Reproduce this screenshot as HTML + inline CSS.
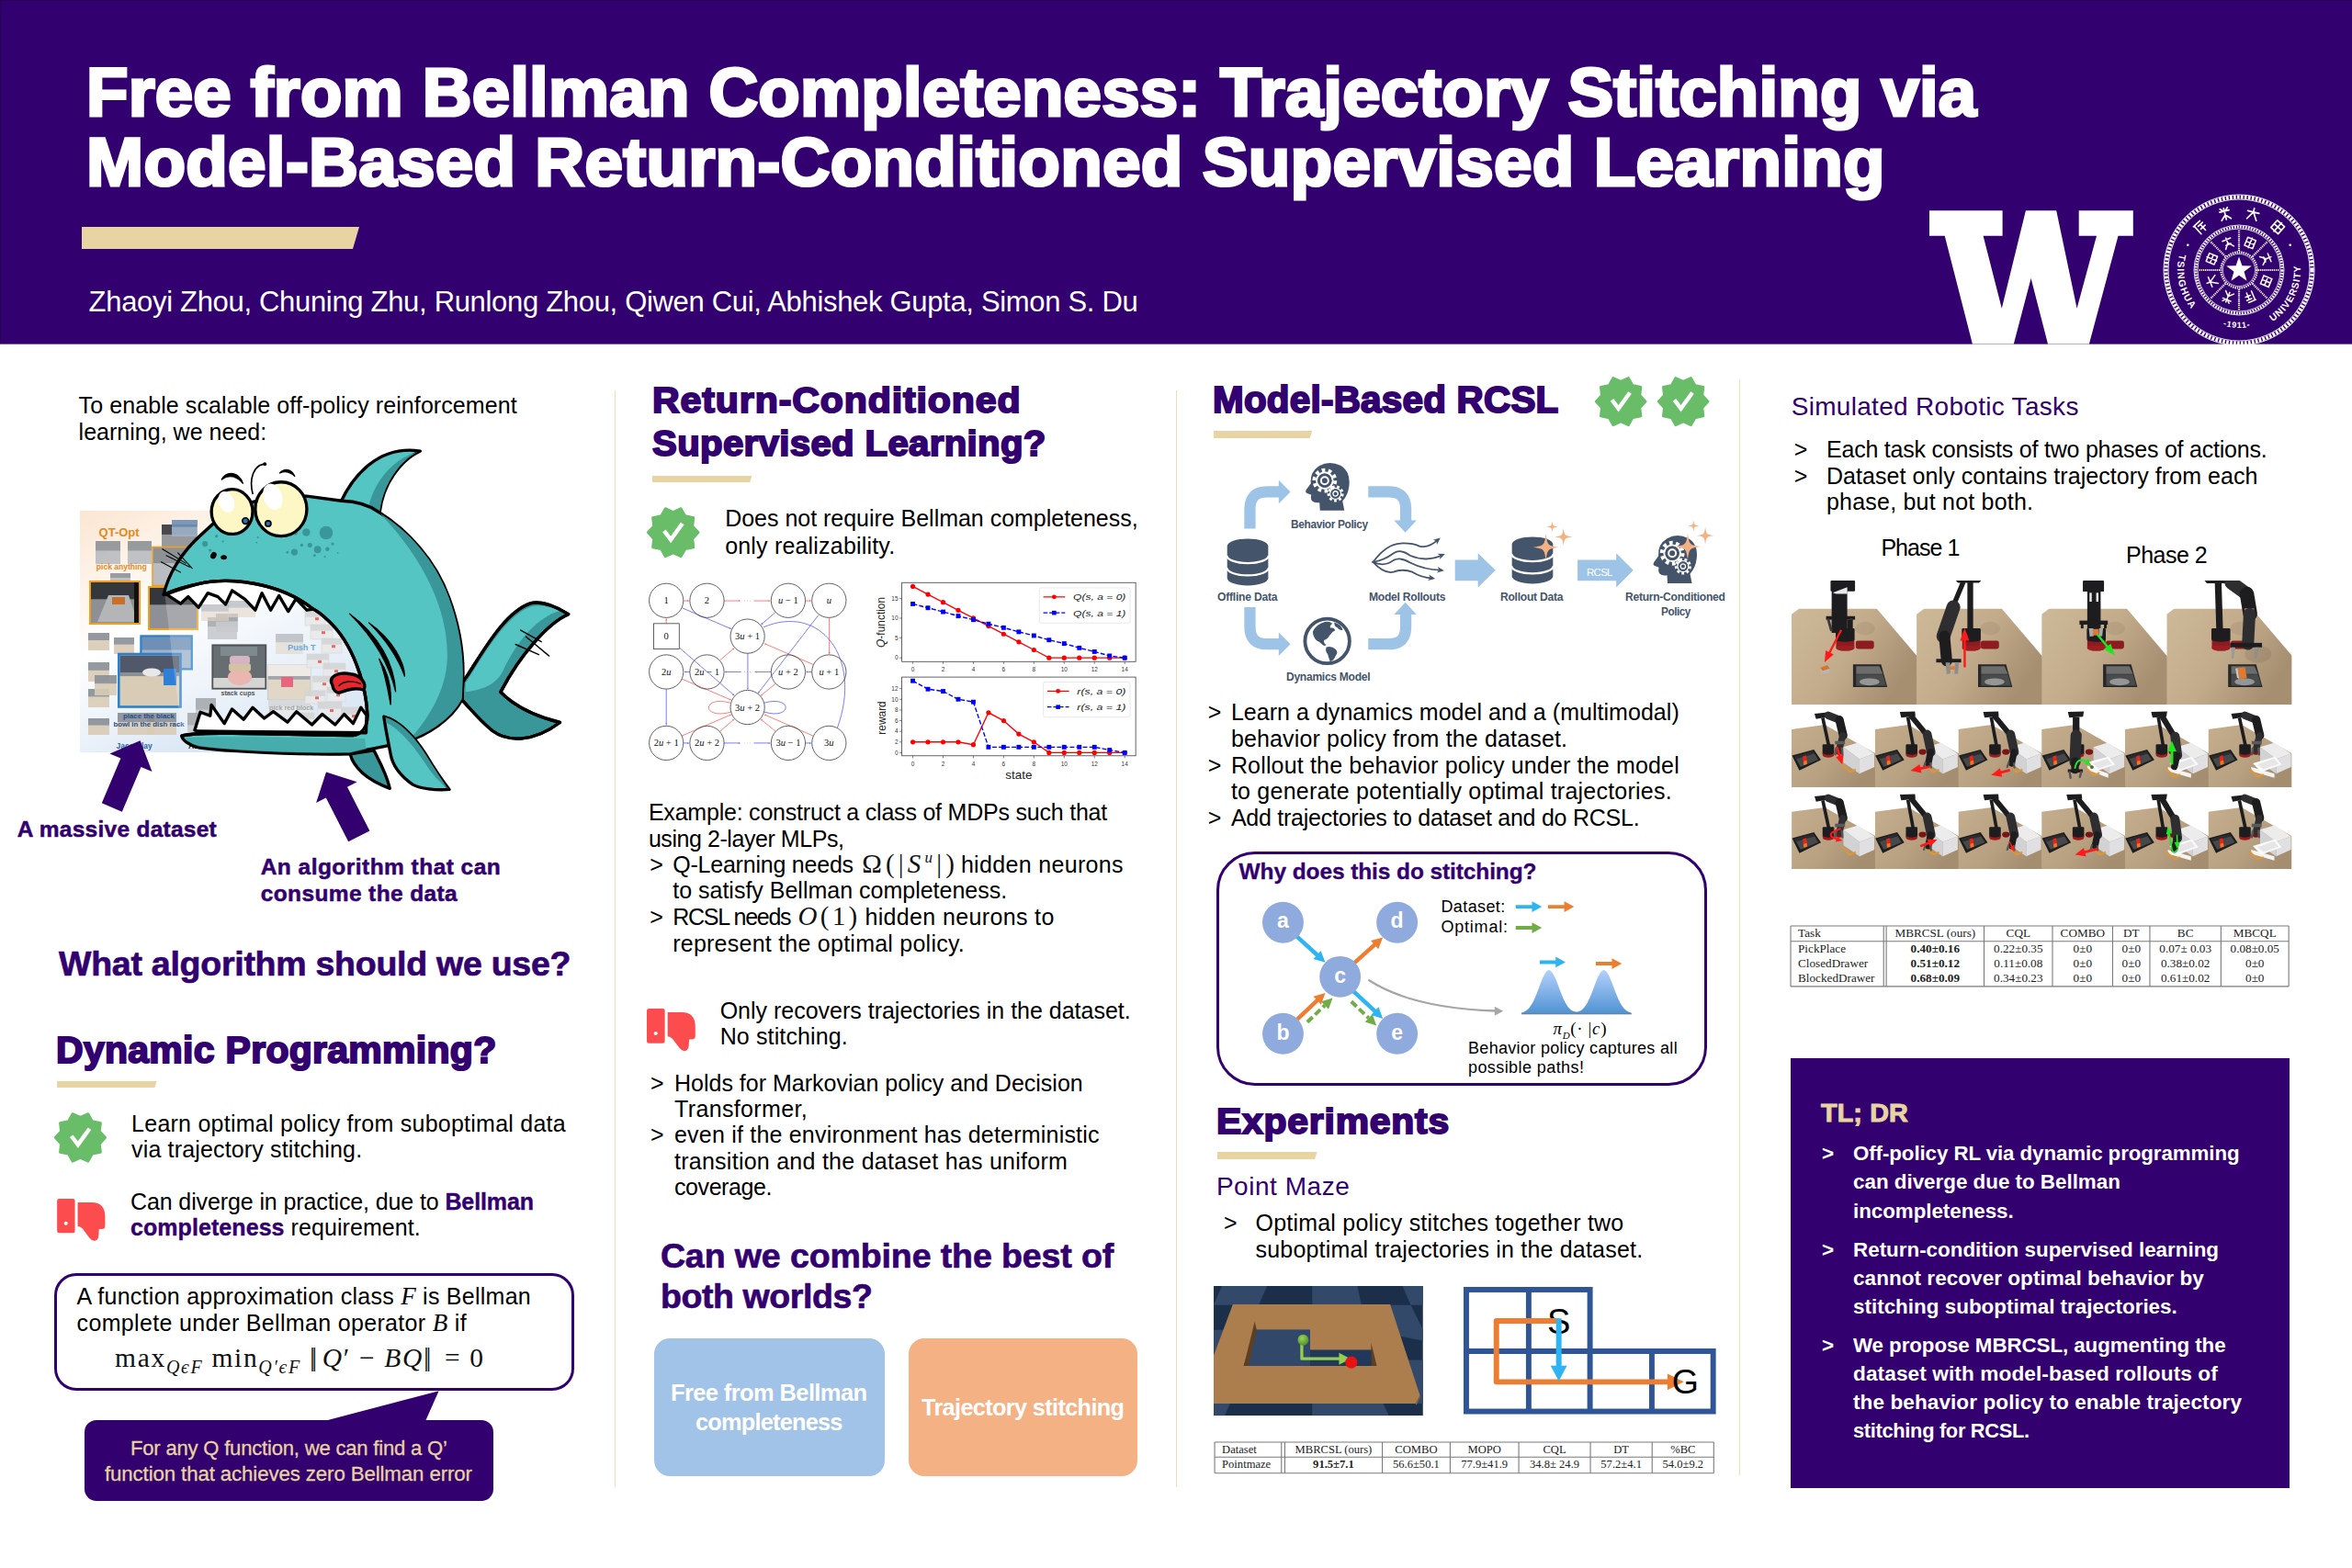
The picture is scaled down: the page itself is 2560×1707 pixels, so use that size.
<!DOCTYPE html>
<html><head><meta charset="utf-8"><title>Poster</title>
<style>
html,body{margin:0;padding:0;background:#fff;overflow:hidden}
body{width:2560px;height:1707px;position:relative;overflow:hidden;font-family:"Liberation Sans",sans-serif}
.t{position:absolute;white-space:pre;line-height:1}
svg{overflow:visible}
svg svg{overflow:hidden}
svg text{font-family:"Liberation Sans",sans-serif}
</style></head>
<body>

<div style="position:absolute;left:0.0px;top:0.0px;width:2560.0px;height:374.0px;background:#33006f;box-shadow:inset 1px 1px 0 #26004f"></div>
<div style="position:absolute;left:0.0px;top:374.0px;width:2560.0px;height:1.0px;background:#7a59a1"></div>
<svg style="position:absolute;left:89.0px;top:247.0px;" width="302.0" height="24.0" viewBox="0 0 302 24" ><polygon points="0,0 302,0 295,24 0,24" fill="#e8d3a2"/></svg>
<svg style="position:absolute;left:2080.0px;top:200.0px;" width="260.0" height="174.5" viewBox="2080 200 260 174.5" ><polygon points="2100.0,229.2 2179.6,229.2 2179.6,256.7 2158.6,256.7 2178.8,335.7 2204.9,229.2 2238.2,229.2 2260.6,335.7 2282.0,256.7 2262.7,256.7 2262.7,229.2 2321.8,229.2 2321.8,256.7 2305.5,256.7 2273.9,374.5 2229.0,374.5 2210.6,303.1 2191.8,374.5 2146.9,374.5 2116.7,256.7 2100.0,256.7" fill="#fff"/></svg>
<svg style="position:absolute;left:2352.0px;top:209.0px;" width="170.0" height="170.0" viewBox="-85 -85 170 170" ><g fill="none" stroke="#fff"><circle cx="0" cy="0" r="79.5" stroke-width="4.2" stroke-dasharray="2.6 1.4"/><circle cx="0" cy="0" r="82" stroke-width="0.9"/><circle cx="0" cy="0" r="77" stroke-width="0.9"/><circle cx="0" cy="0" r="47" stroke-width="3" stroke-dasharray="1.8 1.2"/><circle cx="0" cy="0" r="49" stroke-width="0.8"/><circle cx="0" cy="0" r="45" stroke-width="0.8"/><circle cx="0" cy="0" r="19.5" stroke-width="2.4" stroke-dasharray="1.4 1"/><circle cx="0" cy="0" r="17.6" stroke-width="0.7"/><line x1="0.0" y1="21.0" x2="0.0" y2="44.0" stroke-width="2.2" stroke-dasharray="1.2 0.9"/><line x1="-14.8" y1="14.8" x2="-31.1" y2="31.1" stroke-width="2.2" stroke-dasharray="1.2 0.9"/><line x1="-21.0" y1="0.0" x2="-44.0" y2="0.0" stroke-width="2.2" stroke-dasharray="1.2 0.9"/><line x1="-14.8" y1="-14.8" x2="-31.1" y2="-31.1" stroke-width="2.2" stroke-dasharray="1.2 0.9"/><line x1="-0.0" y1="-21.0" x2="-0.0" y2="-44.0" stroke-width="2.2" stroke-dasharray="1.2 0.9"/><line x1="14.8" y1="-14.8" x2="31.1" y2="-31.1" stroke-width="2.2" stroke-dasharray="1.2 0.9"/><line x1="21.0" y1="-0.0" x2="44.0" y2="-0.0" stroke-width="2.2" stroke-dasharray="1.2 0.9"/><line x1="14.8" y1="14.8" x2="31.1" y2="31.1" stroke-width="2.2" stroke-dasharray="1.2 0.9"/></g><polygon points="0.00,-14.50 3.41,-4.69 13.79,-4.48 5.52,1.79 8.52,11.73 0.00,5.80 -8.52,11.73 -5.52,1.79 -13.79,-4.48 -3.41,-4.69" fill="#fff"/><g transform="translate(12.2 -29.6) rotate(22.5) scale(0.95)" stroke="#fff" fill="none" stroke-width="1.6" stroke-linecap="round"><path d="M-5,-5H5M-5,0H5M-5,5H5M0,-6V6M-5,-5V5M5,-5V5"/></g><g transform="translate(29.6 -12.2) rotate(67.5) scale(0.95)" stroke="#fff" fill="none" stroke-width="1.6" stroke-linecap="round"><path d="M-5,-4H5M0,-6V0M-5,6L0,0L5,6M-3,2H3"/></g><g transform="translate(29.6 12.2) rotate(112.5) scale(0.95)" stroke="#fff" fill="none" stroke-width="1.6" stroke-linecap="round"><path d="M-5,-5H5V5H-5ZM-5,0H5M0,-5V5"/></g><g transform="translate(12.2 29.6) rotate(157.5) scale(0.95)" stroke="#fff" fill="none" stroke-width="1.6" stroke-linecap="round"><path d="M-5,-5H4M-4,-5V6M-1,-2H5M-1,2H5M2,-2V6"/></g><g transform="translate(-12.2 29.6) rotate(202.5) scale(0.95)" stroke="#fff" fill="none" stroke-width="1.6" stroke-linecap="round"><path d="M-5,-3H5M0,-6V6M-5,6L0,1L5,6M-4,-6L-2,-4M4,-6L2,-4"/></g><g transform="translate(-29.6 12.2) rotate(247.5) scale(0.95)" stroke="#fff" fill="none" stroke-width="1.6" stroke-linecap="round"><path d="M-6,-2H6M0,-6V-2M-5,6Q0,-2 0,-2Q0,-2 5,6"/></g><g transform="translate(-29.6 -12.2) rotate(292.5) scale(0.95)" stroke="#fff" fill="none" stroke-width="1.6" stroke-linecap="round"><path d="M-5,-5H5M-5,0H5M-5,5H5M0,-6V6M-5,-5V5M5,-5V5"/></g><g transform="translate(-12.2 -29.6) rotate(337.5) scale(0.95)" stroke="#fff" fill="none" stroke-width="1.6" stroke-linecap="round"><path d="M-5,-4H5M0,-6V0M-5,6L0,0L5,6M-3,2H3"/></g><g transform="translate(-42.2 -46.8) rotate(-42.0) scale(1.05)" stroke="#fff" fill="none" stroke-width="1.6" stroke-linecap="round"><path d="M-5,-5H4M-4,-5V6M-1,-2H5M-1,2H5M2,-2V6"/></g><g transform="translate(-15.2 -61.1) rotate(-14.0) scale(1.05)" stroke="#fff" fill="none" stroke-width="1.6" stroke-linecap="round"><path d="M-5,-3H5M0,-6V6M-5,6L0,1L5,6M-4,-6L-2,-4M4,-6L2,-4"/></g><g transform="translate(15.2 -61.1) rotate(14.0) scale(1.05)" stroke="#fff" fill="none" stroke-width="1.6" stroke-linecap="round"><path d="M-6,-2H6M0,-6V-2M-5,6Q0,-2 0,-2Q0,-2 5,6"/></g><g transform="translate(42.2 -46.8) rotate(42.0) scale(1.05)" stroke="#fff" fill="none" stroke-width="1.6" stroke-linecap="round"><path d="M-5,-5H5M-5,0H5M-5,5H5M0,-6V6M-5,-5V5M5,-5V5"/></g><defs><path id="arcL" d="M-64.72,-17.34 A67,67 0 0 0 -35.50,56.82"/><path id="arcR" d="M36.49,56.19 A67,67 0 0 0 62.96,-22.92"/><path id="arcB" d="M-17.37,60.56 A63,63 0 0 0 17.37,60.56"/></defs><text font-family="Liberation Sans, sans-serif" font-weight="700" fill="#fff" font-size="10.5" letter-spacing="1.2"><textPath href="#arcL">TSINGHUA</textPath></text><text font-family="Liberation Sans, sans-serif" font-weight="700" fill="#fff" font-size="10.5" letter-spacing="0.9"><textPath href="#arcR">UNIVERSITY</textPath></text><text font-family="Liberation Sans, sans-serif" font-weight="700" fill="#fff" font-size="9" letter-spacing="0.8"><textPath href="#arcB">-1911-</textPath></text><circle cx="-55.7" cy="-27.2" r="1.3" fill="#fff"/><circle cx="55.7" cy="-27.2" r="1.3" fill="#fff"/></svg>
<div style="position:absolute;left:668.6px;top:425.0px;width:1.6px;height:1194.0px;background:#ecdcb8"></div>
<div style="position:absolute;left:1279.8px;top:425.0px;width:1.6px;height:1194.0px;background:#ecdcb8"></div>
<div style="position:absolute;left:1892.6px;top:413.0px;width:1.6px;height:1193.0px;background:#ecdcb8"></div>
<svg style="position:absolute;left:62.0px;top:1176.5px;" width="108.6" height="7.1" viewBox="0 0 108.6 7.1" ><polygon points="0.0,0.0 108.6,0.0 106.5,7.1 0.0,7.1" fill="#e8d3a2"/></svg>
<svg style="position:absolute;left:56.1px;top:1207.1px;" width="62.9" height="62.9" viewBox="-31.46 -31.46 62.92 62.92" ><polygon points="27.31,0.00 21.08,6.85 22.10,16.05 13.03,17.93 8.44,25.98 0.00,22.17 -8.44,25.98 -13.03,17.93 -22.10,16.05 -21.08,6.85 -27.31,0.00 -21.08,-6.85 -22.10,-16.05 -13.03,-17.93 -8.44,-25.98 -0.00,-22.17 8.44,-25.98 13.03,-17.93 22.10,-16.05 21.08,-6.85" fill="#69bd68" stroke="#69bd68" stroke-width="2.57" stroke-linejoin="round"/><polyline points="-9.72,-1.72 -2.57,7.72 10.01,-9.72" fill="none" stroke="#fff" stroke-width="4.43" stroke-linecap="butt" stroke-linejoin="miter"/></svg>
<svg style="position:absolute;left:62.3px;top:1305.0px;" width="52.5" height="45.7" viewBox="0 0 207 181" ><rect x="0" y="0" width="77" height="148" rx="9" fill="#fd4c4e"/><circle cx="38" cy="106" r="8" fill="#fff"/><path d="M89,16 H150 Q207,16 207,78 V118 Q207,131 194,131 H181 L179,160 Q176,181 160,181 Q149,181 139,168 L110,129 Q101,119 89,119 Z" fill="#fd4c4e"/></svg>
<div style="position:absolute;left:58.5px;top:1386.3px;width:566.0px;height:127.4px;border:3px solid #33006f;border-radius:24px;box-sizing:border-box"></div>
<div style="position:absolute;left:92.2px;top:1546.3px;width:444.4px;height:88.2px;background:#33006f;border-radius:13px"></div>
<svg style="position:absolute;left:340.0px;top:1510.0px;" width="150.0" height="40.0" viewBox="340 1510 150 40" ><polygon points="353,1547 463.1,1547 477.6,1514.2" fill="#33006f"/></svg>
<svg style="position:absolute;left:710.0px;top:517.5px;" width="108.4" height="7.1" viewBox="0 0 108.4 7.1" ><polygon points="0.0,0.0 108.4,0.0 106.3,7.1 0.0,7.1" fill="#e8d3a2"/></svg>
<svg style="position:absolute;left:700.7px;top:547.9px;" width="63.4" height="63.4" viewBox="-31.68 -31.68 63.36 63.36" ><polygon points="27.50,0.00 21.23,6.90 22.25,16.17 13.12,18.06 8.50,26.16 0.00,22.32 -8.50,26.16 -13.12,18.06 -22.25,16.17 -21.23,6.90 -27.50,0.00 -21.23,-6.90 -22.25,-16.17 -13.12,-18.06 -8.50,-26.16 -0.00,-22.32 8.50,-26.16 13.12,-18.06 22.25,-16.17 21.23,-6.90" fill="#69bd68" stroke="#69bd68" stroke-width="2.59" stroke-linejoin="round"/><polyline points="-9.79,-1.73 -2.59,7.78 10.08,-9.79" fill="none" stroke="#fff" stroke-width="4.46" stroke-linecap="butt" stroke-linejoin="miter"/></svg>
<svg style="position:absolute;left:704.2px;top:1097.5px;" width="52.8" height="46.2" viewBox="0 0 207 181" ><rect x="0" y="0" width="77" height="148" rx="9" fill="#fd4c4e"/><circle cx="38" cy="106" r="8" fill="#fff"/><path d="M89,16 H150 Q207,16 207,78 V118 Q207,131 194,131 H181 L179,160 Q176,181 160,181 Q149,181 139,168 L110,129 Q101,119 89,119 Z" fill="#fd4c4e"/></svg>
<div style="position:absolute;left:712.2px;top:1456.7px;width:250.5px;height:150.0px;background:#a1c3e7;border-radius:17px"></div>
<div style="position:absolute;left:988.7px;top:1456.7px;width:249.1px;height:150.0px;background:#f4b183;border-radius:17px"></div>
<svg style="position:absolute;left:1321.1px;top:468.5px;" width="107.3" height="7.9" viewBox="0 0 107.3 7.9" ><polygon points="0.0,0.0 107.3,0.0 104.9,7.9 0.0,7.9" fill="#e8d3a2"/></svg>
<svg style="position:absolute;left:1732.9px;top:405.8px;" width="62.3" height="62.3" viewBox="-31.13 -31.13 62.26 62.26" ><polygon points="27.03,0.00 20.86,6.78 21.86,15.89 12.89,17.74 8.35,25.70 0.00,21.93 -8.35,25.70 -12.89,17.74 -21.86,15.89 -20.86,6.78 -27.03,0.00 -20.86,-6.78 -21.86,-15.89 -12.89,-17.74 -8.35,-25.70 -0.00,-21.93 8.35,-25.70 12.89,-17.74 21.86,-15.89 20.86,-6.78" fill="#69bd68" stroke="#69bd68" stroke-width="2.55" stroke-linejoin="round"/><polyline points="-9.62,-1.70 -2.55,7.64 9.90,-9.62" fill="none" stroke="#fff" stroke-width="4.39" stroke-linecap="butt" stroke-linejoin="miter"/></svg>
<svg style="position:absolute;left:1801.1px;top:405.8px;" width="62.3" height="62.3" viewBox="-31.13 -31.13 62.26 62.26" ><polygon points="27.03,0.00 20.86,6.78 21.86,15.89 12.89,17.74 8.35,25.70 0.00,21.93 -8.35,25.70 -12.89,17.74 -21.86,15.89 -20.86,6.78 -27.03,0.00 -20.86,-6.78 -21.86,-15.89 -12.89,-17.74 -8.35,-25.70 -0.00,-21.93 8.35,-25.70 12.89,-17.74 21.86,-15.89 20.86,-6.78" fill="#69bd68" stroke="#69bd68" stroke-width="2.55" stroke-linejoin="round"/><polyline points="-9.62,-1.70 -2.55,7.64 9.90,-9.62" fill="none" stroke="#fff" stroke-width="4.39" stroke-linecap="butt" stroke-linejoin="miter"/></svg>
<div style="position:absolute;left:1324.2px;top:927.0px;width:533.6px;height:255.0px;border:3px solid #33006f;border-radius:42px;box-sizing:border-box"></div>
<svg style="position:absolute;left:1325.0px;top:1253.6px;" width="108.5" height="8.0" viewBox="0 0 108.5 8.0" ><polygon points="0.0,0.0 108.5,0.0 106.1,8.0 0.0,8.0" fill="#e8d3a2"/></svg>
<div style="position:absolute;left:1949.0px;top:1152.0px;width:543.0px;height:467.5px;background:#33006f"></div>
<!-- g_fish -->
<svg style="position:absolute;left:80.0px;top:550.0px;" width="345.0" height="275.0" viewBox="80 550 345 275" ><defs><linearGradient id="cbg" x1="0" y1="0" x2="0.6" y2="1"><stop offset="0" stop-color="#fbe6d2"/><stop offset="0.45" stop-color="#ffffff"/><stop offset="1" stop-color="#d3e2f3"/></linearGradient><linearGradient id="cfade" x1="0" y1="0" x2="1" y2="0"><stop offset="0.55" stop-color="#fff" stop-opacity="0"/><stop offset="1" stop-color="#fff" stop-opacity="1"/></linearGradient></defs><rect x="87" y="556" width="313" height="263" fill="url(#cbg)"/><g opacity="0.90"><rect x="104.0" y="589.0" width="27.0" height="25.0" fill="#b9bcc0"/><rect x="104.0" y="589.0" width="27.0" height="10.5" fill="#8e9297"/></g><g opacity="0.90"><rect x="139.0" y="589.0" width="26.0" height="25.0" fill="#b9bcc0"/><rect x="139.0" y="589.0" width="26.0" height="10.5" fill="#8e9297"/></g><g opacity="0.90"><rect x="176.0" y="571.0" width="38.0" height="26.0" fill="#8d9094"/><rect x="176.0" y="571.0" width="38.0" height="10.9" fill="#34373c"/></g><g opacity="0.90"><rect x="187.0" y="566.0" width="28.0" height="18.0" fill="#9fb4cc"/><rect x="187.0" y="566.0" width="28.0" height="7.6" fill="#6f8fb4"/></g><g opacity="0.90"><rect x="120.0" y="624.0" width="22.0" height="12.0" fill="#b9bcc0"/><rect x="120.0" y="624.0" width="22.0" height="5.0" fill="#8e9297"/></g><g opacity="0.90"><rect x="226.0" y="672.0" width="32.0" height="24.0" fill="#b9bcc0"/><rect x="226.0" y="672.0" width="32.0" height="10.1" fill="#8e9297"/></g><g opacity="0.90"><rect x="235.0" y="668.0" width="24.0" height="20.0" fill="#b9bcc0"/><rect x="235.0" y="668.0" width="24.0" height="8.4" fill="#8e9297"/></g><g opacity="0.90"><rect x="96.0" y="689.0" width="23.0" height="19.0" fill="#d9ccb6"/><rect x="96.0" y="689.0" width="23.0" height="8.0" fill="#8a8f96"/></g><g opacity="0.90"><rect x="124.0" y="694.0" width="22.0" height="18.0" fill="#d9ccb6"/><rect x="124.0" y="694.0" width="22.0" height="7.6" fill="#8a8f96"/></g><g opacity="0.90"><rect x="96.0" y="721.0" width="23.0" height="21.0" fill="#d9ccb6"/><rect x="96.0" y="721.0" width="23.0" height="8.8" fill="#8a8f96"/></g><g opacity="0.90"><rect x="96.0" y="750.0" width="23.0" height="20.0" fill="#d9ccb6"/><rect x="96.0" y="750.0" width="23.0" height="8.4" fill="#8a8f96"/></g><g opacity="0.90"><rect x="96.0" y="782.0" width="23.0" height="18.0" fill="#d9ccb6"/><rect x="96.0" y="782.0" width="23.0" height="7.6" fill="#8a8f96"/></g><g opacity="0.90"><rect x="103.0" y="735.0" width="24.0" height="22.0" fill="#d9ccb6"/><rect x="103.0" y="735.0" width="24.0" height="9.2" fill="#8a8f96"/></g><g opacity="0.90"><rect x="128.0" y="776.0" width="40.0" height="24.0" fill="#d9ccb6"/><rect x="128.0" y="776.0" width="40.0" height="10.1" fill="#8a8f96"/></g><g opacity="0.90"><rect x="160.0" y="776.0" width="32.0" height="24.0" fill="#d9ccb6"/><rect x="160.0" y="776.0" width="32.0" height="10.1" fill="#8a8f96"/></g><g opacity="0.90"><rect x="213.0" y="760.0" width="22.0" height="30.0" fill="#b9bcc0"/><rect x="213.0" y="760.0" width="22.0" height="12.6" fill="#8e9297"/></g><g opacity="0.90"><rect x="204.0" y="776.0" width="28.0" height="32.0" fill="#b9bcc0"/><rect x="204.0" y="776.0" width="28.0" height="13.4" fill="#8e9297"/></g><g opacity="1.00"><rect x="166.0" y="595.5" width="50.0" height="42.0" fill="#b9bcc0"/><rect x="166.0" y="595.5" width="50.0" height="17.6" fill="#8e9297"/><rect x="166.0" y="595.5" width="50.0" height="42.0" fill="none" stroke="#f0a020" stroke-width="1.6"/></g><g opacity="1.00"><rect x="98.0" y="633.0" width="54.0" height="46.0" fill="#8d9094"/><rect x="98.0" y="633.0" width="54.0" height="19.3" fill="#34373c"/><rect x="98.0" y="633.0" width="54.0" height="46.0" fill="none" stroke="#f0a020" stroke-width="2.0"/></g><g opacity="1.00"><rect x="162.0" y="639.0" width="53.0" height="46.0" fill="#8d9094"/><rect x="162.0" y="639.0" width="53.0" height="19.3" fill="#34373c"/><rect x="162.0" y="639.0" width="53.0" height="46.0" fill="none" stroke="#f0a020" stroke-width="2.0"/></g><polygon points="106,677 118,648 140,648 150,677" fill="#b4b5b6"/><rect x="122" y="650" width="14" height="8" fill="#c8702a"/><rect x="146" y="634" width="5" height="44" fill="#111"/><g opacity="1.00"><rect x="153.4" y="692.4" width="55.4" height="36.0" fill="#9fb4cc"/><rect x="153.4" y="692.4" width="55.4" height="15.1" fill="#6f8fb4"/><rect x="153.4" y="692.4" width="55.4" height="36.0" fill="none" stroke="#2f7fc8" stroke-width="2.2"/></g><g opacity="1.00"><rect x="129.3" y="712.0" width="67.2" height="57.5" fill="#d9ccb6"/><rect x="129.3" y="712.0" width="67.2" height="24.1" fill="#8a8f96"/><rect x="129.3" y="712.0" width="67.2" height="57.5" fill="none" stroke="#2f7fc8" stroke-width="2.6"/></g><rect x="131" y="714" width="64" height="18" fill="#50586a"/><ellipse cx="165" cy="732" rx="10" ry="4.5" fill="#e8e8e8"/><rect x="178" y="728" width="14" height="18" fill="#2f7fd6"/><rect x="231.3" y="702.3" width="58" height="47.4" fill="#3d4649"/><rect x="231.3" y="738" width="58" height="11.7" fill="#c9cac8"/><rect x="240" y="704" width="40" height="10" fill="#5b6a70"/><rect x="231.3" y="702.3" width="58" height="47.4" fill="none" stroke="#222" stroke-width="1.8"/><ellipse cx="261" cy="737" rx="13" ry="9" fill="#e6a09a"/><rect x="249" y="722" width="24" height="9" rx="3" fill="#c9b08a"/><rect x="250" y="714" width="22" height="9" rx="3" fill="#caa0b0"/><g opacity="1.00"><rect x="291.4" y="724.0" width="46.6" height="37.6" fill="#d9ccb6"/><rect x="291.4" y="724.0" width="46.6" height="15.8" fill="#8a8f96"/><rect x="291.4" y="724.0" width="46.6" height="37.6" fill="none" stroke="#bbb" stroke-width="1.0"/></g><rect x="291.4" y="724" width="46.6" height="12" fill="#e9e6e0"/><rect x="306" y="737" width="13" height="11" fill="#e23a5a"/><g opacity="0.80"><rect x="292.0" y="761.0" width="46.0" height="20.0" fill="#e3e3e3"/><rect x="292.0" y="761.0" width="46.0" height="8.4" fill="#c9c9c9"/></g><g opacity="0.90"><rect x="332.0" y="665.0" width="22.0" height="16.0" fill="#e3e3e3"/><rect x="332.0" y="665.0" width="22.0" height="6.7" fill="#c9c9c9"/><rect x="332.0" y="665.0" width="22.0" height="16.0" fill="none" stroke="#c8c8c8" stroke-width="0.6"/></g><rect x="343.0" y="672.2" width="4" height="3" fill="#e04040"/><g opacity="0.90"><rect x="338.0" y="680.0" width="24.0" height="16.0" fill="#e3e3e3"/><rect x="338.0" y="680.0" width="24.0" height="6.7" fill="#c9c9c9"/><rect x="338.0" y="680.0" width="24.0" height="16.0" fill="none" stroke="#c8c8c8" stroke-width="0.6"/></g><rect x="350.0" y="687.2" width="4" height="3" fill="#e04040"/><g opacity="0.90"><rect x="350.0" y="695.0" width="22.0" height="16.0" fill="#e3e3e3"/><rect x="350.0" y="695.0" width="22.0" height="6.7" fill="#c9c9c9"/><rect x="350.0" y="695.0" width="22.0" height="16.0" fill="none" stroke="#c8c8c8" stroke-width="0.6"/></g><rect x="361.0" y="702.2" width="4" height="3" fill="#e04040"/><g opacity="0.90"><rect x="334.0" y="712.0" width="24.0" height="15.0" fill="#e3e3e3"/><rect x="334.0" y="712.0" width="24.0" height="6.3" fill="#c9c9c9"/><rect x="334.0" y="712.0" width="24.0" height="15.0" fill="none" stroke="#c8c8c8" stroke-width="0.6"/></g><rect x="346.0" y="718.8" width="4" height="3" fill="#e04040"/><g opacity="0.90"><rect x="352.0" y="722.0" width="24.0" height="16.0" fill="#e3e3e3"/><rect x="352.0" y="722.0" width="24.0" height="6.7" fill="#c9c9c9"/><rect x="352.0" y="722.0" width="24.0" height="16.0" fill="none" stroke="#c8c8c8" stroke-width="0.6"/></g><rect x="364.0" y="729.2" width="4" height="3" fill="#e04040"/><g opacity="0.90"><rect x="340.0" y="736.0" width="22.0" height="16.0" fill="#e3e3e3"/><rect x="340.0" y="736.0" width="22.0" height="6.7" fill="#c9c9c9"/><rect x="340.0" y="736.0" width="22.0" height="16.0" fill="none" stroke="#c8c8c8" stroke-width="0.6"/></g><rect x="351.0" y="743.2" width="4" height="3" fill="#e04040"/><g opacity="0.90"><rect x="356.0" y="748.0" width="20.0" height="16.0" fill="#e3e3e3"/><rect x="356.0" y="748.0" width="20.0" height="6.7" fill="#c9c9c9"/><rect x="356.0" y="748.0" width="20.0" height="16.0" fill="none" stroke="#c8c8c8" stroke-width="0.6"/></g><rect x="366.0" y="755.2" width="4" height="3" fill="#e04040"/><g opacity="0.90"><rect x="332.0" y="752.0" width="22.0" height="14.0" fill="#e3e3e3"/><rect x="332.0" y="752.0" width="22.0" height="5.9" fill="#c9c9c9"/><rect x="332.0" y="752.0" width="22.0" height="14.0" fill="none" stroke="#c8c8c8" stroke-width="0.6"/></g><rect x="343.0" y="758.3" width="4" height="3" fill="#e04040"/><g opacity="0.90"><rect x="346.0" y="764.0" width="26.0" height="18.0" fill="#e3e3e3"/><rect x="346.0" y="764.0" width="26.0" height="7.6" fill="#c9c9c9"/><rect x="346.0" y="764.0" width="26.0" height="18.0" fill="none" stroke="#c8c8c8" stroke-width="0.6"/></g><rect x="359.0" y="772.1" width="4" height="3" fill="#e04040"/><g opacity="0.90"><rect x="372.0" y="770.0" width="22.0" height="18.0" fill="#e3e3e3"/><rect x="372.0" y="770.0" width="22.0" height="7.6" fill="#c9c9c9"/><rect x="372.0" y="770.0" width="22.0" height="18.0" fill="none" stroke="#c8c8c8" stroke-width="0.6"/></g><rect x="383.0" y="778.1" width="4" height="3" fill="#e04040"/><g opacity="0.90"><rect x="318.0" y="776.0" width="24.0" height="16.0" fill="#e3e3e3"/><rect x="318.0" y="776.0" width="24.0" height="6.7" fill="#c9c9c9"/><rect x="318.0" y="776.0" width="24.0" height="16.0" fill="none" stroke="#c8c8c8" stroke-width="0.6"/></g><rect x="330.0" y="783.2" width="4" height="3" fill="#e04040"/><g opacity="0.60"><rect x="219.0" y="658.0" width="30.0" height="18.0" fill="#d9ccb6"/><rect x="219.0" y="658.0" width="30.0" height="7.6" fill="#8a8f96"/></g><g opacity="0.60"><rect x="248.0" y="654.0" width="30.0" height="18.0" fill="#d9ccb6"/><rect x="248.0" y="654.0" width="30.0" height="7.6" fill="#8a8f96"/></g><g opacity="0.60"><rect x="300.0" y="690.0" width="30.0" height="22.0" fill="#d9ccb6"/><rect x="300.0" y="690.0" width="30.0" height="9.2" fill="#8a8f96"/></g><text x="107.6" y="583.6" font-size="13.6" fill="#e08a1e" font-family="Liberation Sans, sans-serif" font-weight="700" textLength="44" lengthAdjust="spacingAndGlyphs">QT-Opt</text><text x="104.8" y="619.5" font-size="8.6" fill="#e08a1e" font-family="Liberation Sans, sans-serif" font-weight="700" textLength="55" lengthAdjust="spacingAndGlyphs">pick anything</text><text x="162" y="782" font-size="7.8" fill="#1f4e8c" text-anchor="middle" font-family="Liberation Sans, sans-serif" font-weight="700">place the black</text><text x="162" y="791.2" font-size="7.8" fill="#1f4e8c" text-anchor="middle" font-family="Liberation Sans, sans-serif" font-weight="700">bowl in the dish rack</text><text x="259" y="756.6" font-size="7.2" fill="#222" text-anchor="middle" font-family="Liberation Sans, sans-serif" font-weight="700">stack cups</text><text x="313" y="707.6" font-size="9.2" fill="#3b8fd8" font-family="Liberation Sans, sans-serif" font-weight="700">Push T</text><text x="293" y="772.6" font-size="7.2" fill="#888" font-family="Liberation Sans, sans-serif" font-weight="700">pick red block</text><text x="126.5" y="815.4" font-size="8.5" fill="#2a62a8" font-family="Liberation Sans, sans-serif" font-weight="700">Jaco Play</text><text x="205" y="815.4" font-size="8.5" fill="#222" font-family="Liberation Sans, sans-serif" font-weight="700">ALOHA</text></svg><svg style="position:absolute;left:160.0px;top:470.0px;" width="480.0" height="440.0" viewBox="0 0 1711 1568" ><path d="M70,640 C200,580 330,560 520,595 C600,620 650,690 700,730 C800,820 850,980 855,1100 C855,1150 840,1175 800,1178 L200,1165 L135,1180 Z" fill="#fff" opacity="0.22"/><path d="M788,1250 C800,1300 850,1350 942,1384 C930,1330 905,1285 880,1236 Z" fill="#3a9799" stroke="#000" stroke-width="12" stroke-linejoin="round" stroke-linecap="round"/><path d="M1225,972 C1290,880 1380,700 1490,665 C1540,655 1590,680 1635,708 C1560,740 1450,860 1372,1010 C1440,1080 1530,1110 1602,1128 C1500,1205 1400,1205 1340,1160 C1290,1120 1250,1070 1222,1040 Z" fill="#3a9799" stroke="#000" stroke-width="12" stroke-linejoin="round" stroke-linecap="round"/><path d="M1236,975 C1300,880 1385,715 1492,678 C1530,670 1570,680 1600,695 C1520,720 1440,800 1380,930 C1350,985 1300,1000 1236,1010 Z" fill="#55c5c3"/><path d="M1225,972 C1290,880 1380,700 1490,665 C1540,655 1590,680 1635,708 C1560,740 1450,860 1372,1010 C1440,1080 1530,1110 1602,1128 C1500,1205 1400,1205 1340,1160 C1290,1120 1250,1070 1222,1040 Z" fill="none" stroke="#000" stroke-width="12" stroke-linejoin="round" stroke-linecap="round"/><path d="M752,272 C800,170 900,50 1060,75 C985,110 915,200 902,315 Z" fill="#55c5c3" stroke="#000" stroke-width="12" stroke-linejoin="round" stroke-linecap="round"/><path d="M860,290 C880,200 950,105 1050,78 C985,110 915,200 902,315 Z" fill="#3a9799"/><path d="M65,632 C80,560 130,470 215,395 L262,352 C300,300 450,240 620,250 L755,268 C820,270 870,290 900,312 C1010,380 1120,500 1170,640 C1215,760 1230,880 1225,972 L1222,1040 C1180,1120 1080,1180 1010,1200 C960,1215 900,1225 850,1235 L790,1250 C600,1255 300,1240 200,1225 C160,1215 135,1195 135,1180 C200,1160 500,1175 800,1178 C840,1170 855,1140 855,1100 C850,980 800,820 700,730 C680,710 660,695 640,685 C520,590 330,560 200,590 C150,600 100,615 65,632 Z" fill="#55c5c3" stroke="#000" stroke-width="12" stroke-linejoin="round" stroke-linecap="round"/><path d="M905,318 C1010,380 1120,500 1170,640 C1215,760 1230,880 1225,972 L1222,1036 C1180,1115 1100,1165 1020,1195 C1100,1100 1160,1000 1165,880 C1170,700 1080,500 905,318 Z" fill="#3a9799"/><path d="M150,1188 C300,1178 600,1190 845,1190 L850,1232 L790,1246 C600,1251 300,1236 202,1221 C175,1214 155,1200 150,1188 Z" fill="#3a9799" opacity="0.55"/><path d="M919,1105 C980,1120 1041,1188 1080,1250 C1110,1300 1150,1360 1173,1388 C1120,1392 1060,1385 1031,1369 C990,1340 953,1300 945,1250 C935,1200 925,1150 919,1105 Z" fill="#55c5c3" stroke="#000" stroke-width="12" stroke-linejoin="round" stroke-linecap="round"/><path d="M930,1130 C990,1160 1050,1240 1095,1310 C1120,1345 1150,1372 1168,1386 C1150,1360 1110,1300 1080,1250 C1041,1188 985,1125 925,1108 Z" fill="#3a9799"/><path d="M785,705 C900,790 960,900 965,1010 C940,900 880,800 785,705 Z" fill="#000" stroke="#000" stroke-width="4"/><path d="M860,740 C960,810 1000,900 1000,950 C975,880 930,810 860,740 Z" fill="#000" stroke="#000" stroke-width="4"/><path d="M900,880 C940,940 950,1000 945,1060 C935,1000 925,940 900,880 Z" fill="#000" stroke="#000" stroke-width="4"/><path d="M1450,770 L1530,815" stroke="#000" stroke-width="5" fill="none" stroke-linecap="round"/><path d="M1470,795 L1560,870" stroke="#000" stroke-width="5" fill="none" stroke-linecap="round"/><path d="M1430,825 L1520,865" stroke="#000" stroke-width="5" fill="none" stroke-linecap="round"/><circle cx="695" cy="392" r="26" fill="#3a9799"/><circle cx="618" cy="390" r="15" fill="#3a9799"/><circle cx="575" cy="392" r="9" fill="#3a9799"/><circle cx="572" cy="467" r="13" fill="#3a9799"/><circle cx="662" cy="457" r="14" fill="#3a9799"/><circle cx="632" cy="440" r="9" fill="#3a9799"/><circle cx="700" cy="455" r="8" fill="#3a9799"/><circle cx="720" cy="435" r="6" fill="#3a9799"/><circle cx="600" cy="440" r="6" fill="#3a9799"/><circle cx="545" cy="468" r="5" fill="#3a9799"/><circle cx="650" cy="480" r="5" fill="#3a9799"/><circle cx="690" cy="485" r="4" fill="#3a9799"/><circle cx="740" cy="470" r="3" fill="#3a9799"/><circle cx="225" cy="435" r="11" fill="#3a9799"/><circle cx="245" cy="460" r="6" fill="#3a9799"/><circle cx="270" cy="405" r="6" fill="#3a9799"/><circle cx="295" cy="425" r="4" fill="#3a9799"/><circle cx="430" cy="410" r="4" fill="#3a9799"/><circle cx="425" cy="430" r="3" fill="#3a9799"/><ellipse cx="258" cy="480" rx="11" ry="14" transform="rotate(30 258 480)" fill="#000"/><ellipse cx="298" cy="487" rx="12" ry="9" fill="#000"/><path d="M60,455 L150,510" stroke="#000" stroke-width="4" fill="none" stroke-linecap="round"/><path d="M75,480 L165,525" stroke="#000" stroke-width="4" fill="none" stroke-linecap="round"/><path d="M55,505 L130,545" stroke="#000" stroke-width="4" fill="none" stroke-linecap="round"/><path d="M120,470 L175,530" stroke="#000" stroke-width="4" fill="none" stroke-linecap="round"/><path d="M75,630 C150,603 200,590 200,590 C330,560 520,590 645,688 L620,692 L578,648 L548,697 L512,636 L480,692 L446,626 L420,692 L380,650 L330,616 L305,670 L275,640 L236,626 L200,682 L160,640 L130,667 Z" fill="#fff" stroke="#000" stroke-width="12" stroke-linejoin="round" stroke-linecap="round"/><path d="M185,1158 L207,1088 L245,1102 L250,1060 L300,1132 L330,1076 L375,1116 L410,1070 L455,1112 L490,1086 L545,1127 L580,1086 L640,1137 L680,1096 L730,1137 L765,1096 L800,1132 L830,1070 L852,1100 L850,1168 L200,1162 Z" fill="#fff" stroke="#000" stroke-width="12" stroke-linejoin="round" stroke-linecap="round"/><path d="M65,632 C100,615 150,600 200,590 C330,560 520,590 640,685 C660,695 680,710 700,730 C800,820 850,980 855,1100 C855,1140 840,1170 800,1178 C500,1175 200,1160 135,1180" fill="none" stroke="#000" stroke-width="12" stroke-linejoin="round" stroke-linecap="round"/><path d="M720,985 C700,950 740,930 790,940 C830,945 852,975 842,1002 C800,990 770,1005 745,1013 C730,1010 722,1000 720,985 Z" fill="#e8262d" stroke="#000" stroke-width="12" stroke-linejoin="round" stroke-linecap="round"/><path d="M745,985 C765,965 800,965 828,978" fill="none" stroke="#000" stroke-width="5" stroke-linecap="round"/><ellipse cx="330" cy="310" rx="80" ry="87" fill="#fcf7c4" stroke="#000" stroke-width="12" stroke-linejoin="round" stroke-linecap="round"/><ellipse cx="520" cy="300" rx="100" ry="105" fill="#fcf7c4" stroke="#000" stroke-width="12" stroke-linejoin="round" stroke-linecap="round"/><ellipse cx="308" cy="272" rx="30" ry="42" transform="rotate(-20 308 272)" fill="#fff"/><ellipse cx="488" cy="252" rx="36" ry="52" transform="rotate(-20 488 252)" fill="#fff"/><circle cx="382" cy="346" r="12" fill="#2a6fae" stroke="#000" stroke-width="6"/><circle cx="470" cy="356" r="11" fill="#2a6fae" stroke="#000" stroke-width="6"/><path d="M290,185 C310,150 355,155 372,200 C350,170 315,165 290,185 Z" fill="#000" stroke="#000" stroke-width="5" stroke-linejoin="round"/><path d="M515,160 C535,140 560,145 573,172 C555,155 535,150 515,160 Z" fill="#000" stroke="#000" stroke-width="5" stroke-linejoin="round"/><path d="M410,240 C395,180 415,130 455,125" fill="none" stroke="#000" stroke-width="6" stroke-linecap="round"/><circle cx="457" cy="125" r="7" fill="#000"/></svg><svg style="position:absolute;left:100.0px;top:800.0px;" width="320.0" height="130.0" viewBox="100 800 320 130" ><polygon points="132.8,883.7 153.5,834.9 165.5,840.0 152.6,806.3 119.4,820.5 131.4,825.6 110.8,874.3" fill="#33006f"/><polygon points="402.4,904.4 378.0,856.7 388.6,851.3 355.0,840.4 344.1,874.0 354.8,868.6 379.2,916.2" fill="#33006f"/></svg>
<!-- g_mdp -->
<svg style="position:absolute;left:690.0px;top:620.0px;" width="260.0" height="230.0" viewBox="0 0 1773 1568" ><line x1="240.0" y1="400.0" x2="240.0" y2="376.0" stroke="#ff5c5c" stroke-width="5.5"/><polygon points="247.0,376.0 240.0,360.0 233.0,376.0" fill="#ff5c5c"/><line x1="367.0" y1="232.0" x2="396.0" y2="232.0" stroke="#ff5c5c" stroke-width="5.5"/><polygon points="396.0,239.0 412.0,232.0 396.0,225.0" fill="#ff5c5c"/><line x1="668.0" y1="232.0" x2="776.0" y2="232.0" stroke="#ff5c5c" stroke-width="5.5"/><polygon points="776.0,239.0 792.0,232.0 776.0,225.0" fill="#ff5c5c"/><line x1="890.0" y1="232.0" x2="999.0" y2="232.0" stroke="#ff5c5c" stroke-width="5.5"/><polygon points="999.0,239.0 1015.0,232.0 999.0,225.0" fill="#ff5c5c"/><line x1="1272.0" y1="232.0" x2="1302.0" y2="232.0" stroke="#ff5c5c" stroke-width="5.5"/><polygon points="1302.0,239.0 1318.0,232.0 1302.0,225.0" fill="#ff5c5c"/><line x1="1450.0" y1="358.0" x2="1450.0" y2="614.0" stroke="#ff5c5c" stroke-width="5.5"/><polygon points="1443.0,614.0 1450.0,630.0 1457.0,614.0" fill="#ff5c5c"/><line x1="1330.0" y1="705.0" x2="979.7" y2="554.3" stroke="#ff5c5c" stroke-width="5.5"/><polygon points="982.5,547.9 965.0,548.0 976.9,560.8" fill="#ff5c5c"/><line x1="640.0" y1="672.0" x2="732.8" y2="593.3" stroke="#ff5c5c" stroke-width="5.5"/><polygon points="737.3,598.7 745.0,583.0 728.3,588.0" fill="#ff5c5c"/><line x1="355.0" y1="812.0" x2="710.3" y2="963.7" stroke="#ff5c5c" stroke-width="5.5"/><polygon points="707.5,970.2 725.0,970.0 713.0,957.3" fill="#ff5c5c"/><line x1="1050.0" y1="848.0" x2="952.4" y2="927.9" stroke="#ff5c5c" stroke-width="5.5"/><polygon points="948.0,922.5 940.0,938.0 956.8,933.3" fill="#ff5c5c"/><line x1="355.0" y1="1235.0" x2="710.3" y2="1081.4" stroke="#ff5c5c" stroke-width="5.5"/><polygon points="713.1,1087.8 725.0,1075.0 707.5,1074.9" fill="#ff5c5c"/><line x1="640.0" y1="1200.0" x2="732.9" y2="1120.4" stroke="#ff5c5c" stroke-width="5.5"/><polygon points="737.4,1125.7 745.0,1110.0 728.3,1115.1" fill="#ff5c5c"/><line x1="1050.0" y1="1200.0" x2="952.4" y2="1120.1" stroke="#ff5c5c" stroke-width="5.5"/><polygon points="956.8,1114.7 940.0,1110.0 948.0,1125.5" fill="#ff5c5c"/><line x1="1330.0" y1="1235.0" x2="979.7" y2="1081.4" stroke="#ff5c5c" stroke-width="5.5"/><polygon points="982.5,1075.0 965.0,1075.0 976.8,1087.8" fill="#ff5c5c"/><path d="M722,1057 C500,1120 500,930 716,990" fill="none" stroke="#ff5c5c" stroke-width="5.5"/><path d="M966,1057 C1180,1120 1180,930 966,990" fill="none" stroke="#5c5cff" stroke-width="5.5"/><line x1="358.0" y1="285.0" x2="710.3" y2="435.7" stroke="#5c5cff" stroke-width="5.5"/><polygon points="707.5,442.1 725.0,442.0 713.0,429.3" fill="#5c5cff"/><line x1="1050.0" y1="318.0" x2="954.2" y2="399.6" stroke="#5c5cff" stroke-width="5.5"/><polygon points="949.6,394.3 942.0,410.0 958.7,405.0" fill="#5c5cff"/><line x1="1370.0" y1="338.0" x2="929.8" y2="907.3" stroke="#5c5cff" stroke-width="5.5"/><polygon points="924.2,903.1 920.0,920.0 935.3,911.6" fill="#5c5cff"/><path d="M1510,1175 C1700,650 1380,250 962,428" fill="none" stroke="#5c5cff" stroke-width="5.5"/><line x1="337.0" y1="580.0" x2="732.9" y2="924.5" stroke="#5c5cff" stroke-width="5.5"/><polygon points="728.3,929.8 745.0,935.0 737.5,919.2" fill="#5c5cff"/><line x1="845.0" y1="622.0" x2="845.0" y2="877.0" stroke="#5c5cff" stroke-width="5.5"/><polygon points="838.0,877.0 845.0,893.0 852.0,877.0" fill="#5c5cff"/><line x1="1322.0" y1="760.0" x2="1291.0" y2="760.0" stroke="#5c5cff" stroke-width="5.5"/><polygon points="1291.0,753.0 1275.0,760.0 1291.0,767.0" fill="#5c5cff"/><line x1="1018.0" y1="760.0" x2="911.0" y2="760.0" stroke="#5c5cff" stroke-width="5.5"/><polygon points="911.0,753.0 895.0,760.0 911.0,767.0" fill="#5c5cff"/><line x1="795.0" y1="760.0" x2="688.0" y2="760.0" stroke="#5c5cff" stroke-width="5.5"/><polygon points="688.0,753.0 672.0,760.0 688.0,767.0" fill="#5c5cff"/><line x1="415.0" y1="760.0" x2="388.0" y2="760.0" stroke="#5c5cff" stroke-width="5.5"/><polygon points="388.0,753.0 372.0,760.0 388.0,767.0" fill="#5c5cff"/><line x1="240.0" y1="888.0" x2="240.0" y2="1142.0" stroke="#5c5cff" stroke-width="5.5"/><polygon points="233.0,1142.0 240.0,1158.0 247.0,1142.0" fill="#5c5cff"/><line x1="367.0" y1="1288.0" x2="396.0" y2="1288.0" stroke="#5c5cff" stroke-width="5.5"/><polygon points="396.0,1295.0 412.0,1288.0 396.0,1281.0" fill="#5c5cff"/><line x1="668.0" y1="1288.0" x2="776.0" y2="1288.0" stroke="#5c5cff" stroke-width="5.5"/><polygon points="776.0,1295.0 792.0,1288.0 776.0,1281.0" fill="#5c5cff"/><line x1="890.0" y1="1288.0" x2="999.0" y2="1288.0" stroke="#5c5cff" stroke-width="5.5"/><polygon points="999.0,1295.0 1015.0,1288.0 999.0,1281.0" fill="#5c5cff"/><line x1="1272.0" y1="1288.0" x2="1302.0" y2="1288.0" stroke="#5c5cff" stroke-width="5.5"/><polygon points="1302.0,1295.0 1318.0,1288.0 1302.0,1281.0" fill="#5c5cff"/><circle cx="822" cy="232" r="3" fill="#999"/><circle cx="842" cy="232" r="3" fill="#999"/><circle cx="862" cy="232" r="3" fill="#999"/><circle cx="822" cy="760" r="3" fill="#999"/><circle cx="842" cy="760" r="3" fill="#999"/><circle cx="862" cy="760" r="3" fill="#999"/><circle cx="822" cy="1288" r="3" fill="#999"/><circle cx="842" cy="1288" r="3" fill="#999"/><circle cx="862" cy="1288" r="3" fill="#999"/><circle cx="240" cy="230" r="127" fill="none" stroke="#3c3c3c" stroke-width="5.5"/><text x="240" y="254" text-anchor="middle" font-family="Liberation Serif, serif" font-size="72" fill="#111" style="font-family:'Liberation Serif',serif;white-space:pre">1</text><circle cx="542" cy="230" r="127" fill="none" stroke="#3c3c3c" stroke-width="5.5"/><text x="542" y="254" text-anchor="middle" font-family="Liberation Serif, serif" font-size="72" fill="#111" style="font-family:'Liberation Serif',serif;white-space:pre">2</text><circle cx="1145" cy="230" r="127" fill="none" stroke="#3c3c3c" stroke-width="5.5"/><text x="1145" y="254" text-anchor="middle" font-family="Liberation Serif, serif" font-size="72" fill="#111" style="font-family:'Liberation Serif',serif;white-space:pre"><tspan font-style="italic">u</tspan> − 1</text><circle cx="1448" cy="230" r="127" fill="none" stroke="#3c3c3c" stroke-width="5.5"/><text x="1448" y="254" text-anchor="middle" font-family="Liberation Serif, serif" font-size="72" fill="#111" style="font-family:'Liberation Serif',serif;white-space:pre"><tspan font-style="italic">u</tspan></text><circle cx="843" cy="495" r="127" fill="none" stroke="#3c3c3c" stroke-width="5.5"/><text x="843" y="519" text-anchor="middle" font-family="Liberation Serif, serif" font-size="72" fill="#111" style="font-family:'Liberation Serif',serif;white-space:pre">3<tspan font-style="italic">u</tspan> + 1</text><circle cx="240" cy="760" r="127" fill="none" stroke="#3c3c3c" stroke-width="5.5"/><text x="240" y="784" text-anchor="middle" font-family="Liberation Serif, serif" font-size="72" fill="#111" style="font-family:'Liberation Serif',serif;white-space:pre">2<tspan font-style="italic">u</tspan></text><circle cx="542" cy="760" r="127" fill="none" stroke="#3c3c3c" stroke-width="5.5"/><text x="542" y="784" text-anchor="middle" font-family="Liberation Serif, serif" font-size="72" fill="#111" style="font-family:'Liberation Serif',serif;white-space:pre">2<tspan font-style="italic">u</tspan> − 1</text><circle cx="1145" cy="760" r="127" fill="none" stroke="#3c3c3c" stroke-width="5.5"/><text x="1145" y="784" text-anchor="middle" font-family="Liberation Serif, serif" font-size="72" fill="#111" style="font-family:'Liberation Serif',serif;white-space:pre"><tspan font-style="italic">u</tspan> + 2</text><circle cx="1448" cy="760" r="127" fill="none" stroke="#3c3c3c" stroke-width="5.5"/><text x="1448" y="784" text-anchor="middle" font-family="Liberation Serif, serif" font-size="72" fill="#111" style="font-family:'Liberation Serif',serif;white-space:pre"><tspan font-style="italic">u</tspan> + 1</text><circle cx="843" cy="1023" r="127" fill="none" stroke="#3c3c3c" stroke-width="5.5"/><text x="843" y="1047" text-anchor="middle" font-family="Liberation Serif, serif" font-size="72" fill="#111" style="font-family:'Liberation Serif',serif;white-space:pre">3<tspan font-style="italic">u</tspan> + 2</text><circle cx="240" cy="1288" r="127" fill="none" stroke="#3c3c3c" stroke-width="5.5"/><text x="240" y="1312" text-anchor="middle" font-family="Liberation Serif, serif" font-size="72" fill="#111" style="font-family:'Liberation Serif',serif;white-space:pre">2<tspan font-style="italic">u</tspan> + 1</text><circle cx="542" cy="1288" r="127" fill="none" stroke="#3c3c3c" stroke-width="5.5"/><text x="542" y="1312" text-anchor="middle" font-family="Liberation Serif, serif" font-size="72" fill="#111" style="font-family:'Liberation Serif',serif;white-space:pre">2<tspan font-style="italic">u</tspan> + 2</text><circle cx="1145" cy="1288" r="127" fill="none" stroke="#3c3c3c" stroke-width="5.5"/><text x="1145" y="1312" text-anchor="middle" font-family="Liberation Serif, serif" font-size="72" fill="#111" style="font-family:'Liberation Serif',serif;white-space:pre">3<tspan font-style="italic">u</tspan> − 1</text><circle cx="1448" cy="1288" r="127" fill="none" stroke="#3c3c3c" stroke-width="5.5"/><text x="1448" y="1312" text-anchor="middle" font-family="Liberation Serif, serif" font-size="72" fill="#111" style="font-family:'Liberation Serif',serif;white-space:pre">3<tspan font-style="italic">u</tspan></text><rect x="146" y="401" width="190" height="188" fill="none" stroke="#3c3c3c" stroke-width="5.5"/><text x="240" y="519" text-anchor="middle" font-family="Liberation Serif, serif" font-size="72" fill="#111" style="font-family:'Liberation Serif',serif;white-space:pre">0</text></svg>
<!-- g_chart -->
<svg style="position:absolute;left:940.0px;top:620.0px;" width="320.0" height="240.0" viewBox="0 0 2091 1568" ><rect x="272" y="93" width="1663" height="562" fill="#fff" stroke="#333" stroke-width="5"/><polyline points="350.0,120.4 457.6,176.8 565.3,233.2 672.9,289.6 780.6,346.0 888.2,402.4 995.8,458.8 1103.5,515.2 1211.1,571.6 1318.8,628.0 1426.4,628.0 1534.0,628.0 1641.7,628.0 1749.3,628.0 1857.0,628.0" fill="none" stroke="#ff0000" stroke-width="9" /><circle cx="350.0" cy="120.4" r="17" fill="#ff0000"/><circle cx="457.6" cy="176.8" r="17" fill="#ff0000"/><circle cx="565.3" cy="233.2" r="17" fill="#ff0000"/><circle cx="672.9" cy="289.6" r="17" fill="#ff0000"/><circle cx="780.6" cy="346.0" r="17" fill="#ff0000"/><circle cx="888.2" cy="402.4" r="17" fill="#ff0000"/><circle cx="995.8" cy="458.8" r="17" fill="#ff0000"/><circle cx="1103.5" cy="515.2" r="17" fill="#ff0000"/><circle cx="1211.1" cy="571.6" r="17" fill="#ff0000"/><circle cx="1318.8" cy="628.0" r="17" fill="#ff0000"/><circle cx="1426.4" cy="628.0" r="17" fill="#ff0000"/><circle cx="1534.0" cy="628.0" r="17" fill="#ff0000"/><circle cx="1641.7" cy="628.0" r="17" fill="#ff0000"/><circle cx="1749.3" cy="628.0" r="17" fill="#ff0000"/><circle cx="1857.0" cy="628.0" r="17" fill="#ff0000"/><polyline points="350.0,244.5 457.6,272.7 565.3,300.9 672.9,330.5 780.6,357.3 888.2,386.9 995.8,413.7 1103.5,443.3 1211.1,470.1 1318.8,501.1 1426.4,526.5 1534.0,557.5 1641.7,584.3 1749.3,613.9 1857.0,628.0" fill="none" stroke="#0000ff" stroke-width="9" stroke-dasharray="32 14"/><rect x="334.0" y="228.5" width="32" height="32" fill="#0000ff"/><rect x="441.6" y="256.7" width="32" height="32" fill="#0000ff"/><rect x="549.3" y="284.9" width="32" height="32" fill="#0000ff"/><rect x="656.9" y="314.5" width="32" height="32" fill="#0000ff"/><rect x="764.6" y="341.3" width="32" height="32" fill="#0000ff"/><rect x="872.2" y="370.9" width="32" height="32" fill="#0000ff"/><rect x="979.8" y="397.7" width="32" height="32" fill="#0000ff"/><rect x="1087.5" y="427.3" width="32" height="32" fill="#0000ff"/><rect x="1195.1" y="454.1" width="32" height="32" fill="#0000ff"/><rect x="1302.8" y="485.1" width="32" height="32" fill="#0000ff"/><rect x="1410.4" y="510.5" width="32" height="32" fill="#0000ff"/><rect x="1518.0" y="541.5" width="32" height="32" fill="#0000ff"/><rect x="1625.7" y="568.3" width="32" height="32" fill="#0000ff"/><rect x="1733.3" y="597.9" width="32" height="32" fill="#0000ff"/><rect x="1841.0" y="612.0" width="32" height="32" fill="#0000ff"/><line x1="255" y1="628.0" x2="272" y2="628.0" stroke="#333" stroke-width="4"/><text x="245.0" y="643.0" font-size="42" text-anchor="end" fill="#333" >0</text><line x1="255" y1="487.0" x2="272" y2="487.0" stroke="#333" stroke-width="4"/><text x="245.0" y="502.0" font-size="42" text-anchor="end" fill="#333" >5</text><line x1="255" y1="346.0" x2="272" y2="346.0" stroke="#333" stroke-width="4"/><text x="245.0" y="361.0" font-size="42" text-anchor="end" fill="#333" >10</text><line x1="255" y1="205.0" x2="272" y2="205.0" stroke="#333" stroke-width="4"/><text x="245.0" y="220.0" font-size="42" text-anchor="end" fill="#333" >15</text><line x1="350.0" y1="655" x2="350.0" y2="672" stroke="#333" stroke-width="4"/><text x="350.0" y="722.0" font-size="42" text-anchor="middle" fill="#333" >0</text><line x1="565.3" y1="655" x2="565.3" y2="672" stroke="#333" stroke-width="4"/><text x="565.3" y="722.0" font-size="42" text-anchor="middle" fill="#333" >2</text><line x1="780.6" y1="655" x2="780.6" y2="672" stroke="#333" stroke-width="4"/><text x="780.6" y="722.0" font-size="42" text-anchor="middle" fill="#333" >4</text><line x1="995.8" y1="655" x2="995.8" y2="672" stroke="#333" stroke-width="4"/><text x="995.8" y="722.0" font-size="42" text-anchor="middle" fill="#333" >6</text><line x1="1211.1" y1="655" x2="1211.1" y2="672" stroke="#333" stroke-width="4"/><text x="1211.1" y="722.0" font-size="42" text-anchor="middle" fill="#333" >8</text><line x1="1426.4" y1="655" x2="1426.4" y2="672" stroke="#333" stroke-width="4"/><text x="1426.4" y="722.0" font-size="42" text-anchor="middle" fill="#333" >10</text><line x1="1641.7" y1="655" x2="1641.7" y2="672" stroke="#333" stroke-width="4"/><text x="1641.7" y="722.0" font-size="42" text-anchor="middle" fill="#333" >12</text><line x1="1857.0" y1="655" x2="1857.0" y2="672" stroke="#333" stroke-width="4"/><text x="1857.0" y="722.0" font-size="42" text-anchor="middle" fill="#333" >14</text><rect x="1250" y="130" width="645" height="250" rx="14" fill="#fff" fill-opacity="0.85" stroke="#ccc" stroke-width="3"/><line x1="1278" y1="195" x2="1433" y2="195" stroke="#ff0000" stroke-width="8"/><circle cx="1355" cy="195" r="16" fill="#ff0000"/><line x1="1278" y1="308" x2="1433" y2="308" stroke="#0000ff" stroke-width="8" stroke-dasharray="30 13"/><rect x="1340" y="293" width="30" height="30" fill="#0000ff"/><text x="1490" y="217" font-size="64" fill="#222" font-style="italic" textLength="375" lengthAdjust="spacingAndGlyphs">Q(s, a = 0)</text><text x="1490" y="330" font-size="64" fill="#222" font-style="italic" textLength="375" lengthAdjust="spacingAndGlyphs">Q(s, a = 1)</text><text transform="translate(150 375) rotate(-90)" font-size="78" text-anchor="middle" fill="#222"><tspan font-style="italic">Q</tspan>-function</text><rect x="272" y="765" width="1663" height="560" fill="#fff" stroke="#333" stroke-width="5"/><polyline points="350.0,1227.0 457.6,1227.0 565.3,1227.0 672.9,1227.0 780.6,1246.0 888.2,1018.0 995.8,1075.0 1103.5,1170.0 1211.1,1227.0 1318.8,1303.0 1426.4,1303.0 1534.0,1303.0 1641.7,1303.0 1749.3,1303.0 1857.0,1303.0" fill="none" stroke="#ff0000" stroke-width="9" /><circle cx="350.0" cy="1227.0" r="17" fill="#ff0000"/><circle cx="457.6" cy="1227.0" r="17" fill="#ff0000"/><circle cx="565.3" cy="1227.0" r="17" fill="#ff0000"/><circle cx="672.9" cy="1227.0" r="17" fill="#ff0000"/><circle cx="780.6" cy="1246.0" r="17" fill="#ff0000"/><circle cx="888.2" cy="1018.0" r="17" fill="#ff0000"/><circle cx="995.8" cy="1075.0" r="17" fill="#ff0000"/><circle cx="1103.5" cy="1170.0" r="17" fill="#ff0000"/><circle cx="1211.1" cy="1227.0" r="17" fill="#ff0000"/><circle cx="1318.8" cy="1303.0" r="17" fill="#ff0000"/><circle cx="1426.4" cy="1303.0" r="17" fill="#ff0000"/><circle cx="1534.0" cy="1303.0" r="17" fill="#ff0000"/><circle cx="1641.7" cy="1303.0" r="17" fill="#ff0000"/><circle cx="1749.3" cy="1303.0" r="17" fill="#ff0000"/><circle cx="1857.0" cy="1303.0" r="17" fill="#ff0000"/><polyline points="350.0,791.9 457.6,850.8 565.3,866.0 672.9,923.0 780.6,942.0 888.2,1263.1 995.8,1263.1 1103.5,1263.1 1211.1,1263.1 1318.8,1263.1 1426.4,1263.1 1534.0,1263.1 1641.7,1263.1 1749.3,1284.0 1857.0,1303.0" fill="none" stroke="#0000ff" stroke-width="9" stroke-dasharray="32 14"/><rect x="334.0" y="775.9" width="32" height="32" fill="#0000ff"/><rect x="441.6" y="834.8" width="32" height="32" fill="#0000ff"/><rect x="549.3" y="850.0" width="32" height="32" fill="#0000ff"/><rect x="656.9" y="907.0" width="32" height="32" fill="#0000ff"/><rect x="764.6" y="926.0" width="32" height="32" fill="#0000ff"/><rect x="872.2" y="1247.1" width="32" height="32" fill="#0000ff"/><rect x="979.8" y="1247.1" width="32" height="32" fill="#0000ff"/><rect x="1087.5" y="1247.1" width="32" height="32" fill="#0000ff"/><rect x="1195.1" y="1247.1" width="32" height="32" fill="#0000ff"/><rect x="1302.8" y="1247.1" width="32" height="32" fill="#0000ff"/><rect x="1410.4" y="1247.1" width="32" height="32" fill="#0000ff"/><rect x="1518.0" y="1247.1" width="32" height="32" fill="#0000ff"/><rect x="1625.7" y="1247.1" width="32" height="32" fill="#0000ff"/><rect x="1733.3" y="1268.0" width="32" height="32" fill="#0000ff"/><rect x="1841.0" y="1287.0" width="32" height="32" fill="#0000ff"/><line x1="255" y1="1303.0" x2="272" y2="1303.0" stroke="#333" stroke-width="4"/><text x="245.0" y="1318.0" font-size="42" text-anchor="end" fill="#333" >0</text><line x1="255" y1="1227.0" x2="272" y2="1227.0" stroke="#333" stroke-width="4"/><text x="245.0" y="1242.0" font-size="42" text-anchor="end" fill="#333" >2</text><line x1="255" y1="1151.0" x2="272" y2="1151.0" stroke="#333" stroke-width="4"/><text x="245.0" y="1166.0" font-size="42" text-anchor="end" fill="#333" >4</text><line x1="255" y1="1075.0" x2="272" y2="1075.0" stroke="#333" stroke-width="4"/><text x="245.0" y="1090.0" font-size="42" text-anchor="end" fill="#333" >6</text><line x1="255" y1="999.0" x2="272" y2="999.0" stroke="#333" stroke-width="4"/><text x="245.0" y="1014.0" font-size="42" text-anchor="end" fill="#333" >8</text><line x1="255" y1="923.0" x2="272" y2="923.0" stroke="#333" stroke-width="4"/><text x="245.0" y="938.0" font-size="42" text-anchor="end" fill="#333" >10</text><line x1="255" y1="847.0" x2="272" y2="847.0" stroke="#333" stroke-width="4"/><text x="245.0" y="862.0" font-size="42" text-anchor="end" fill="#333" >12</text><line x1="350.0" y1="1325" x2="350.0" y2="1342" stroke="#333" stroke-width="4"/><text x="350.0" y="1395.0" font-size="42" text-anchor="middle" fill="#333" >0</text><line x1="565.3" y1="1325" x2="565.3" y2="1342" stroke="#333" stroke-width="4"/><text x="565.3" y="1395.0" font-size="42" text-anchor="middle" fill="#333" >2</text><line x1="780.6" y1="1325" x2="780.6" y2="1342" stroke="#333" stroke-width="4"/><text x="780.6" y="1395.0" font-size="42" text-anchor="middle" fill="#333" >4</text><line x1="995.8" y1="1325" x2="995.8" y2="1342" stroke="#333" stroke-width="4"/><text x="995.8" y="1395.0" font-size="42" text-anchor="middle" fill="#333" >6</text><line x1="1211.1" y1="1325" x2="1211.1" y2="1342" stroke="#333" stroke-width="4"/><text x="1211.1" y="1395.0" font-size="42" text-anchor="middle" fill="#333" >8</text><line x1="1426.4" y1="1325" x2="1426.4" y2="1342" stroke="#333" stroke-width="4"/><text x="1426.4" y="1395.0" font-size="42" text-anchor="middle" fill="#333" >10</text><line x1="1641.7" y1="1325" x2="1641.7" y2="1342" stroke="#333" stroke-width="4"/><text x="1641.7" y="1395.0" font-size="42" text-anchor="middle" fill="#333" >12</text><line x1="1857.0" y1="1325" x2="1857.0" y2="1342" stroke="#333" stroke-width="4"/><text x="1857.0" y="1395.0" font-size="42" text-anchor="middle" fill="#333" >14</text><rect x="1278" y="800" width="617" height="250" rx="14" fill="#fff" fill-opacity="0.85" stroke="#ccc" stroke-width="3"/><line x1="1306" y1="865" x2="1461" y2="865" stroke="#ff0000" stroke-width="8"/><circle cx="1383" cy="865" r="16" fill="#ff0000"/><line x1="1306" y1="978" x2="1461" y2="978" stroke="#0000ff" stroke-width="8" stroke-dasharray="30 13"/><rect x="1368" y="963" width="30" height="30" fill="#0000ff"/><text x="1518" y="887" font-size="64" fill="#222" font-style="italic" textLength="347" lengthAdjust="spacingAndGlyphs">r(s, a = 0)</text><text x="1518" y="1000" font-size="64" fill="#222" font-style="italic" textLength="347" lengthAdjust="spacingAndGlyphs">r(s, a = 1)</text><text transform="translate(154 1055) rotate(-90)" font-size="78" text-anchor="middle" fill="#222">reward</text><text x="1103" y="1488" font-size="88" text-anchor="middle" fill="#222">state</text></svg>
<!-- g_flow -->
<svg style="position:absolute;left:1300.0px;top:490.0px;" width="600.0" height="269.9" viewBox="0 0 2352 1058" ><g fill="none" stroke="#9dc3e6" stroke-width="48"><path d="M237,335 V250 Q237,178 310,178 H362"/><path d="M742,178 H830 Q902,178 902,250 V302"/><path d="M237,670 V756 Q237,828 310,828 H362"/><path d="M742,828 H830 Q902,828 902,756 V700"/></g><g fill="#9dc3e6"><polygon points="360,128 410,178 360,228"/><polygon points="852,300 948,300 900,352"/><polygon points="360,778 410,828 360,878"/><polygon points="852,702 948,702 900,650"/><polygon points="1112,468 1210,468 1210,440 1285,513 1210,586 1210,558 1112,558"/><polygon points="1635,468 1800,468 1800,440 1873,513 1800,586 1800,558 1635,558"/></g><path d="M140.0,410.0 A87.5,32 0 0 1 315.0,410.0 V546.0 A87.5,32 0 0 1 140.0,546.0 Z" fill="#44546a"/><path d="M138.0,450.0 A87.5,32 0 0 0 317.0,450.0" fill="none" stroke="#fff" stroke-width="9"/><path d="M138.0,502.0 A87.5,32 0 0 0 317.0,502.0" fill="none" stroke="#fff" stroke-width="9"/><path d="M1355.0,402.0 A87.5,32 0 0 1 1530.0,402.0 V538.0 A87.5,32 0 0 1 1355.0,538.0 Z" fill="#44546a"/><path d="M1353.0,442.0 A87.5,32 0 0 0 1532.0,442.0" fill="none" stroke="#fff" stroke-width="9"/><path d="M1353.0,494.0 A87.5,32 0 0 0 1532.0,494.0" fill="none" stroke="#fff" stroke-width="9"/><g transform="translate(472.0 52.0)"><path d="M64,206 L62,172 Q40,175 31,166 Q22,156 27,139 L7,131 Q0,127 5,118 L25,90 Q20,40 62,15 Q104,-9 152,14 Q196,40 188,102 Q184,140 160,166 L168,206 Z" fill="#44546a"/><g transform="translate(84.0 78.0)" fill="none" stroke="#fff"><circle r="44.7" stroke-width="15.6" stroke-dasharray="14.61 13.49"/><circle r="34.3" stroke-width="8.3"/><circle r="30.2" fill="#44546a" stroke="none"/><circle r="15.6" stroke-width="7.8"/></g><g transform="translate(130.0 134.0)" fill="none" stroke="#fff"><circle r="30.1" stroke-width="10.5" stroke-dasharray="10.93 10.09"/><circle r="23.1" stroke-width="5.6"/><circle r="20.3" fill="#44546a" stroke="none"/><circle r="10.5" stroke-width="5.2"/></g></g><g transform="translate(1955.0 362.0)"><path d="M64,206 L62,172 Q40,175 31,166 Q22,156 27,139 L7,131 Q0,127 5,118 L25,90 Q20,40 62,15 Q104,-9 152,14 Q196,40 188,102 Q184,140 160,166 L168,206 Z" fill="#44546a"/><g transform="translate(84.0 78.0)" fill="none" stroke="#fff"><circle r="44.7" stroke-width="15.6" stroke-dasharray="14.61 13.49"/><circle r="34.3" stroke-width="8.3"/><circle r="30.2" fill="#44546a" stroke="none"/><circle r="15.6" stroke-width="7.8"/></g><g transform="translate(130.0 134.0)" fill="none" stroke="#fff"><circle r="30.1" stroke-width="10.5" stroke-dasharray="10.93 10.09"/><circle r="23.1" stroke-width="5.6"/><circle r="20.3" fill="#44546a" stroke="none"/><circle r="10.5" stroke-width="5.2"/></g></g><g transform="translate(567.0 815.0)"><circle r="95.0" fill="#fff" stroke="#44546a" stroke-width="15"/><path d="M-62,-40 Q-50,-70 -10,-82 Q10,-86 22,-74 Q8,-66 14,-56 Q30,-60 34,-46 Q18,-40 10,-24 Q0,-6 -14,-4 Q-16,10 -4,16 Q-12,24 -22,14 Q-34,2 -44,-2 Q-60,-14 -62,-40 Z" fill="#44546a"/><path d="M30,-80 Q60,-70 66,-48 Q50,-44 42,-58 Q30,-62 30,-80 Z" fill="#44546a"/><path d="M-4,26 Q20,20 36,36 Q48,48 36,62 Q28,84 12,88 Q6,70 2,56 Q-10,44 -4,26 Z" fill="#44546a"/></g><g fill="none" stroke="#44546a" stroke-width="7" stroke-linecap="round" stroke-linejoin="round"><path d="M762,478 Q820,400 880,398 Q930,396 960,410 Q1000,420 1040,382"/><path d="M762,478 Q810,470 850,440 Q880,420 920,450 Q990,480 1058,448"/><path d="M762,478 Q810,500 850,470 Q880,455 920,480 Q980,510 1052,512"/><path d="M762,478 Q810,530 850,520 Q890,505 930,520 Q970,545 1015,546"/></g><polygon transform="translate(1045 378) rotate(-40)" points="6,0 -24,-13 -16,0 -24,13" fill="#44546a"/><polygon transform="translate(1064 445) rotate(-22)" points="6,0 -24,-13 -16,0 -24,13" fill="#44546a"/><polygon transform="translate(1060 514) rotate(8)" points="6,0 -24,-13 -16,0 -24,13" fill="#44546a"/><polygon transform="translate(1022 548) rotate(10)" points="6,0 -24,-13 -16,0 -24,13" fill="#44546a"/><path transform="translate(1500.0 415.0)" d="M0,-56.0 C7.3,-7.3 7.3,-7.3 56.0,0 C7.3,7.3 7.3,7.3 0,56.0 C-7.3,7.3 -7.3,7.3 -56.0,0 C-7.3,-7.3 -7.3,-7.3 0,-56.0 Z" fill="#f4b183"/><path transform="translate(1575.0 370.0)" d="M0,-38.0 C4.9,-4.9 4.9,-4.9 38.0,0 C4.9,4.9 4.9,4.9 0,38.0 C-4.9,4.9 -4.9,4.9 -38.0,0 C-4.9,-4.9 -4.9,-4.9 0,-38.0 Z" fill="#f4b183"/><path transform="translate(1527.0 327.0)" d="M0,-24.0 C3.1,-3.1 3.1,-3.1 24.0,0 C3.1,3.1 3.1,3.1 0,24.0 C-3.1,3.1 -3.1,3.1 -24.0,0 C-3.1,-3.1 -3.1,-3.1 0,-24.0 Z" fill="#f4b183"/><path transform="translate(2105.0 412.0)" d="M0,-56.0 C7.3,-7.3 7.3,-7.3 56.0,0 C7.3,7.3 7.3,7.3 0,56.0 C-7.3,7.3 -7.3,7.3 -56.0,0 C-7.3,-7.3 -7.3,-7.3 0,-56.0 Z" fill="#f4b183"/><path transform="translate(2180.0 365.0)" d="M0,-38.0 C4.9,-4.9 4.9,-4.9 38.0,0 C4.9,4.9 4.9,4.9 0,38.0 C-4.9,4.9 -4.9,4.9 -38.0,0 C-4.9,-4.9 -4.9,-4.9 0,-38.0 Z" fill="#f4b183"/><path transform="translate(2130.0 323.0)" d="M0,-24.0 C3.1,-3.1 3.1,-3.1 24.0,0 C3.1,3.1 3.1,3.1 0,24.0 C-3.1,3.1 -3.1,3.1 -24.0,0 C-3.1,-3.1 -3.1,-3.1 0,-24.0 Z" fill="#f4b183"/></svg>
<!-- g_stitch -->
<svg style="position:absolute;left:1320.0px;top:920.0px;" width="550.0" height="270.1" viewBox="0 0 2352 1155" ><defs><linearGradient id="bump" x1="0" y1="0" x2="0" y2="1"><stop offset="0" stop-color="#b4d0fb"/><stop offset="1" stop-color="#4f93d2"/></linearGradient></defs><polygon points="378.6,427.0 479.1,518.1 468.0,530.3 524.0,546.0 502.9,491.8 491.9,504.0 391.4,413.0" fill="#2eb4f1"/><polygon points="661.3,559.1 759.5,471.7 770.5,484.0 792.0,430.0 735.9,445.2 746.8,457.5 648.7,544.9" fill="#ed7d31"/><polygon points="394.5,822.9 492.6,730.6 504.0,742.6 524.0,688.0 468.3,704.7 479.6,716.7 381.5,809.1" fill="#ed7d31"/><polygon points="648.5,686.9 747.5,779.4 736.3,791.5 792.0,808.0 771.8,753.5 760.5,765.6 661.5,673.1" fill="#2eb4f1"/><line x1="440.0" y1="824.0" x2="521.7" y2="746.4" stroke="#70ad47" stroke-width="17.0" stroke-dasharray="34 16"/><polygon points="538.9,764.6 558.0,712.0 504.5,728.3" fill="#70ad47"/><line x1="645.0" y1="728.0" x2="725.9" y2="805.4" stroke="#70ad47" stroke-width="17.0" stroke-dasharray="34 16"/><polygon points="708.6,823.5 762.0,840.0 743.2,787.4" fill="#70ad47"/><circle cx="327" cy="360" r="96" fill="#8faadc"/><circle cx="858" cy="360" r="96" fill="#8faadc"/><circle cx="593" cy="613" r="96" fill="#8faadc"/><circle cx="327" cy="878" r="96" fill="#8faadc"/><circle cx="858" cy="878" r="96" fill="#8faadc"/><path d="M728,630 Q930,760 1318,772" fill="none" stroke="#a6a6a6" stroke-width="10" stroke-linecap="round"/><polygon points="1312,752 1352,773 1312,794" fill="#a6a6a6"/><polygon points="1410.0,295.5 1486.0,295.5 1486.0,312.0 1532.0,287.0 1486.0,262.0 1486.0,278.5 1410.0,278.5" fill="#2eb4f1"/><polygon points="1560.0,295.5 1636.0,295.5 1636.0,312.0 1682.0,287.0 1636.0,262.0 1636.0,278.5 1560.0,278.5" fill="#ed7d31"/><polygon points="1410.0,393.5 1486.0,393.5 1486.0,410.0 1532.0,385.0 1486.0,360.0 1486.0,376.5 1410.0,376.5" fill="#70ad47"/><polygon points="1522.0,553.5 1596.0,553.5 1596.0,570.0 1642.0,545.0 1596.0,520.0 1596.0,536.5 1522.0,536.5" fill="#2eb4f1"/><polygon points="1783.0,560.5 1858.0,560.5 1858.0,577.0 1904.0,552.0 1858.0,527.0 1858.0,543.5 1783.0,543.5" fill="#ed7d31"/><polygon points="1437,785 1437.0,780.8 1441.0,779.6 1445.0,778.2 1449.0,776.6 1453.0,774.5 1457.0,772.1 1461.0,769.2 1465.0,765.9 1469.0,762.0 1473.0,757.5 1477.0,752.4 1481.0,746.7 1485.0,740.3 1489.0,733.1 1493.0,725.4 1497.0,716.9 1501.0,707.9 1505.0,698.3 1509.0,688.2 1513.0,677.8 1517.0,667.2 1521.0,656.5 1525.0,645.9 1529.0,635.5 1533.0,625.6 1537.0,616.3 1541.0,607.8 1545.0,600.3 1549.0,593.9 1553.0,588.8 1557.0,585.0 1561.0,582.8 1565.0,582.0 1569.0,582.8 1573.0,585.0 1577.0,588.8 1581.0,593.9 1585.0,600.3 1589.0,607.8 1593.0,616.3 1597.0,625.6 1601.0,635.5 1605.0,645.9 1609.0,656.5 1613.0,667.2 1617.0,677.8 1621.0,688.2 1625.0,698.3 1629.0,707.8 1633.0,716.9 1637.0,725.3 1641.0,733.0 1645.0,740.1 1649.0,746.5 1653.0,752.2 1657.0,757.1 1661.0,761.5 1665.0,765.2 1669.0,768.3 1673.0,770.9 1677.0,772.9 1681.0,774.4 1685.0,775.5 1689.0,776.1 1693.0,776.3 1697.0,776.0 1701.0,775.3 1705.0,774.1 1709.0,772.4 1713.0,770.3 1717.0,767.6 1721.0,764.3 1725.0,760.5 1729.0,756.0 1733.0,750.8 1737.0,745.0 1741.0,738.4 1745.0,731.2 1749.0,723.2 1753.0,714.7 1757.0,705.5 1761.0,695.8 1765.0,685.7 1769.0,675.2 1773.0,664.5 1777.0,653.9 1781.0,643.3 1785.0,633.0 1789.0,623.2 1793.0,614.1 1797.0,605.9 1801.0,598.6 1805.0,592.5 1809.0,587.7 1813.0,584.3 1817.0,582.4 1821.0,582.0 1825.0,583.2 1829.0,585.8 1833.0,589.9 1837.0,595.4 1841.0,602.1 1845.0,609.9 1849.0,618.6 1853.0,628.1 1857.0,638.1 1861.0,648.5 1865.0,659.2 1869.0,669.9 1873.0,680.5 1877.0,690.8 1881.0,700.7 1885.0,710.2 1889.0,719.1 1893.0,727.4 1897.0,735.0 1901.0,741.9 1905.0,748.2 1909.0,753.8 1913.0,758.7 1917.0,763.0 1921.0,766.8 1925.0,770.0 1929.0,772.7 1933.0,775.1 1937.0,777.0 1941.0,778.6 1945.0,779.9 1949.0,781.0 1949,785" fill="url(#bump)"/><line x1="1437" y1="786" x2="1949" y2="786" stroke="#1f3864" stroke-width="3"/></svg>
<!-- g_maze -->
<svg style="position:absolute;left:1321.1px;top:1399.7px;" width="227.9" height="141.2" viewBox="0 0 765 474" ><defs><clipPath id="mzc"><rect x="0" y="0" width="765" height="474"/></clipPath><radialGradient id="gball" cx="0.4" cy="0.35" r="0.7"><stop offset="0" stop-color="#9fd45a"/><stop offset="1" stop-color="#4a8f25"/></radialGradient></defs><g clip-path="url(#mzc)"><rect x="0" y="0" width="765" height="474" fill="#1b2f4b"/><polygon points="30,0 195,0 165,70 0,70" fill="#33496a"/><polygon points="360,0 525,0 540,70 360,70" fill="#33496a"/><polygon points="690,0 765,0 765,70 720,70" fill="#33496a"/><polygon points="165,70 360,70 360,160 130,160" fill="#33496a"/><polygon points="540,70 720,70 765,160 765,200 560,160" fill="#33496a"/><polygon points="0,160 130,160 95,270 0,270" fill="#33496a"/><polygon points="360,160 560,160 585,270 360,270" fill="#33496a"/><polygon points="95,270 360,270 360,430 60,430" fill="#33496a"/><polygon points="585,270 765,270 765,430 620,430" fill="#33496a"/><polygon points="0,430 60,430 40,474 0,474" fill="#33496a"/><polygon points="360,430 620,430 640,474 360,474" fill="#33496a"/><path fill-rule="evenodd" fill="#ac7d4d" d="M70,67 L645,67 L754,400 L737,430 L0,430 L0,254 Z M150,160 L352,160 L352,234 L577,234 L592,292 L110,292 Z"/><polygon points="150,160 352,160 352,234 577,234 592,292 110,292" fill="#31486a"/><polygon points="150,160 352,160 352,292 110,292" fill="#31486a"/><polygon points="352,234 577,234 592,292 352,292" fill="#22385a"/><polygon points="150,130 157,160 128,292 110,292" fill="#5d3f22"/><polygon points="575,208 582,234 596,292 577,292" fill="#5d3f22"/><polygon points="737,430 754,400 754,408 741,436" fill="#8a6238"/><polyline points="322,204 322,266 470,266" fill="none" stroke="#92d050" stroke-width="11" stroke-linejoin="round"/><polygon points="458,244 500,266 458,288" fill="#92d050"/><circle cx="327" cy="197" r="20" fill="url(#gball)"/><circle cx="503" cy="279" r="22" fill="#e81212"/></g></svg><svg style="position:absolute;left:1589.8px;top:1397.9px;" width="283.0" height="146.0" viewBox="1040 530 950 490" ><g fill="none" stroke="#2f5597" stroke-width="20"><rect x="1060" y="550" width="452" height="225"/><rect x="1060" y="775" width="902" height="220"/><line x1="1288" y1="550" x2="1288" y2="995"/><line x1="1512" y1="775" x2="1512" y2="995"/><line x1="1738" y1="775" x2="1738" y2="995"/></g><text x="1398" y="710" font-size="128" text-anchor="middle" fill="#000">S</text><polyline points="1400,664 1170,664 1170,887 1800,887" fill="none" stroke="#ed7d31" stroke-width="20" stroke-linejoin="round"/><polygon points="1795,857 1855,887 1795,917" fill="#ed7d31"/><line x1="1398" y1="655" x2="1398" y2="835" stroke="#2eb4f1" stroke-width="20"/><polygon points="1368,828 1428,828 1398,884" fill="#2eb4f1"/><text x="1860" y="930" font-size="126" text-anchor="middle" fill="#000">G</text></svg>
<!-- g_robots -->
<svg style="position:absolute;left:1950.2px;top:631.6px;" width="544.4" height="135.0" viewBox="0 0 2246.0 557" ><defs><linearGradient id="tan1" x1="0" y1="0" x2="1" y2="0.5"><stop offset="0" stop-color="#cdb999"/><stop offset="0.55" stop-color="#c2ab8a"/><stop offset="1" stop-color="#a68e71"/></linearGradient><linearGradient id="tan2" x1="0" y1="0" x2="1" y2="0.6"><stop offset="0" stop-color="#c4ae8e"/><stop offset="0.6" stop-color="#b8a181"/><stop offset="1" stop-color="#a58e70"/></linearGradient></defs><svg x="0.0" y="0" width="564.5" height="557" viewBox="0 0 564.5 557" overflow="hidden"><polygon points="0.0,152.0 33.0,127.0 383.0,127.0 566.0,342.0 566.0,557.0 0.0,557.0" fill="url(#tan1)"/><ellipse cx="330" cy="215" rx="45" ry="30" fill="#000" opacity="0.06"/><rect x="288.0" y="270.0" width="82.0" height="37.0" rx="10.0" fill="#8c1c1f"/><polygon points="276.0,377.0 402.0,377.0 430.0,479.0 276.0,479.0" fill="#26282a"/><polygon points="290.0,385.0 394.0,385.0 410.0,420.0 290.0,420.0" fill="#6b6d6c"/><polygon points="290.0,422.0 410.0,422.0 424.0,472.0 290.0,472.0" fill="#4a4c4b"/><ellipse cx="350" cy="455" rx="45" ry="16" fill="#c8c8c8" opacity="0.6"/><path d="M200.0,263.0 v40 a41,13 0 0 0 82,0 v-40 Z" fill="#8e1b20"/><path d="M200.0,293.0 v10 a41,13 0 0 0 82,0 v-10 Z" fill="#a82026" opacity="0.6"/><rect x="198.0" y="215.0" width="85.0" height="52.0" rx="6.0" fill="#1d1d1f"/><path d="M198.0,265.0 a42.5,10 0 0 0 85,0 Z" fill="#1d1d1f"/><rect x="175.0" y="0.0" width="110.0" height="48.0" rx="4.0" fill="#1d1d1f"/><rect x="180.0" y="40.0" width="70.0" height="195.0" rx="0.0" fill="#1d1d1f"/><polygon points="185.0,55.0 250.0,30.0 250.0,60.0 200.0,60.0" fill="#e8e8e8"/><rect x="155.0" y="160.0" width="130.0" height="16.0" rx="0.0" fill="#1d1d1f"/><line x1="165.0" y1="176.0" x2="178.0" y2="222.0" stroke="#3a3a3a" stroke-width="12.0" stroke-linecap="round"/><line x1="268.0" y1="176.0" x2="258.0" y2="222.0" stroke="#3a3a3a" stroke-width="12.0" stroke-linecap="round"/><rect x="250.0" y="176.0" width="25.0" height="84.0" rx="0.0" fill="#1d1d1f"/><polygon points="128.0,392.0 160.0,380.0 172.0,395.0 170.0,415.0 132.0,417.0" fill="#b7b7b7"/><polygon points="128.0,392.0 160.0,380.0 172.0,395.0 140.0,405.0" fill="#d8742a"/><polygon points="218.6,219.7 166.5,320.3 153.2,313.4 148.0,367.0 188.7,331.8 175.4,324.9 227.4,224.3" fill="#ff1a1a"/></svg><svg x="561.5" y="0" width="564.5" height="557" viewBox="0 0 564.5 557" overflow="hidden"><polygon points="0.0,152.0 33.0,127.0 383.0,127.0 566.0,342.0 566.0,557.0 0.0,557.0" fill="url(#tan1)"/><ellipse cx="330" cy="215" rx="45" ry="30" fill="#000" opacity="0.06"/><rect x="288.0" y="270.0" width="82.0" height="37.0" rx="10.0" fill="#8c1c1f"/><polygon points="276.0,377.0 402.0,377.0 430.0,479.0 276.0,479.0" fill="#26282a"/><polygon points="290.0,385.0 394.0,385.0 410.0,420.0 290.0,420.0" fill="#6b6d6c"/><polygon points="290.0,422.0 410.0,422.0 424.0,472.0 290.0,472.0" fill="#4a4c4b"/><ellipse cx="350" cy="455" rx="45" ry="16" fill="#c8c8c8" opacity="0.6"/><path d="M205.0,263.0 v40 a41,13 0 0 0 82,0 v-40 Z" fill="#8e1b20"/><path d="M205.0,293.0 v10 a41,13 0 0 0 82,0 v-10 Z" fill="#a82026" opacity="0.6"/><rect x="203.0" y="215.0" width="85.0" height="52.0" rx="6.0" fill="#1d1d1f"/><path d="M203.0,265.0 a42.5,10 0 0 0 85,0 Z" fill="#1d1d1f"/><polygon points="176.0,0.0 290.0,0.0 280.0,10.0 186.0,10.0" fill="#1d1d1f"/><line x1="241.0" y1="5.0" x2="241.0" y2="240.0" stroke="#1d1d1f" stroke-width="26.0" stroke-linecap="butt"/><line x1="210.0" y1="5.0" x2="150.0" y2="150.0" stroke="#1d1d1f" stroke-width="22.0" stroke-linecap="butt"/><line x1="165.0" y1="120.0" x2="120.0" y2="250.0" stroke="#2e2e31" stroke-width="62.0" stroke-linecap="round"/><line x1="125.0" y1="250.0" x2="135.0" y2="360.0" stroke="#1d1d1f" stroke-width="50.0" stroke-linecap="round"/><rect x="88.0" y="352.0" width="112.0" height="16.0" rx="0.0" fill="#1d1d1f"/><polygon points="130.0,368.0 150.0,368.0 152.0,418.0 135.0,420.0" fill="#8d8d8d"/><polygon points="172.0,368.0 190.0,368.0 186.0,418.0 170.0,420.0" fill="#8d8d8d"/><rect x="148.0" y="385.0" width="24.0" height="15.0" rx="0.0" fill="#e07a30"/><polygon points="221.0,390.0 221.0,270.0 237.0,270.0 216.0,214.0 195.0,270.0 211.0,270.0 211.0,390.0" fill="#ff1a1a"/></svg><svg x="1123.0" y="0" width="564.5" height="557" viewBox="0 0 564.5 557" overflow="hidden"><polygon points="0.0,152.0 33.0,127.0 383.0,127.0 566.0,342.0 566.0,557.0 0.0,557.0" fill="url(#tan1)"/><ellipse cx="330" cy="215" rx="45" ry="30" fill="#000" opacity="0.06"/><rect x="288.0" y="270.0" width="82.0" height="37.0" rx="10.0" fill="#8c1c1f"/><polygon points="276.0,377.0 402.0,377.0 430.0,479.0 276.0,479.0" fill="#26282a"/><polygon points="290.0,385.0 394.0,385.0 410.0,420.0 290.0,420.0" fill="#6b6d6c"/><polygon points="290.0,422.0 410.0,422.0 424.0,472.0 290.0,472.0" fill="#4a4c4b"/><ellipse cx="350" cy="455" rx="45" ry="16" fill="#c8c8c8" opacity="0.6"/><path d="M205.0,263.0 v40 a41,13 0 0 0 82,0 v-40 Z" fill="#8e1b20"/><path d="M205.0,293.0 v10 a41,13 0 0 0 82,0 v-10 Z" fill="#a82026" opacity="0.6"/><rect x="203.0" y="215.0" width="85.0" height="52.0" rx="6.0" fill="#1d1d1f"/><path d="M203.0,265.0 a42.5,10 0 0 0 85,0 Z" fill="#1d1d1f"/><rect x="185.0" y="0.0" width="95.0" height="50.0" rx="4.0" fill="#1d1d1f"/><rect x="205.0" y="45.0" width="60.0" height="200.0" rx="0.0" fill="#1d1d1f"/><rect x="215.0" y="55.0" width="10.0" height="40.0" rx="0.0" fill="#e8e8e8"/><rect x="245.0" y="55.0" width="10.0" height="40.0" rx="0.0" fill="#e8e8e8"/><rect x="170.0" y="180.0" width="127.0" height="18.0" rx="0.0" fill="#1d1d1f"/><rect x="176.0" y="198.0" width="12.0" height="17.0" rx="0.0" fill="#1d1d1f"/><rect x="280.0" y="198.0" width="12.0" height="17.0" rx="0.0" fill="#1d1d1f"/><polygon points="212.0,215.0 232.0,215.0 234.0,250.0 216.0,252.0" fill="#a9a9a9"/><polygon points="258.0,215.0 276.0,215.0 272.0,250.0 256.0,252.0" fill="#a9a9a9"/><rect x="230.0" y="218.0" width="26.0" height="28.0" rx="0.0" fill="#e07a30"/><polygon points="246.2,245.2 290.9,299.2 279.4,308.8 328.0,336.0 310.2,283.2 298.6,292.8 253.8,238.8" fill="#1fe61f"/></svg><svg x="1684.5" y="0" width="561.5" height="557" viewBox="0 0 561.5 557" overflow="hidden"><polygon points="0.0,152.0 33.0,127.0 383.0,127.0 566.0,342.0 566.0,557.0 0.0,557.0" fill="url(#tan1)"/><ellipse cx="330" cy="215" rx="45" ry="30" fill="#000" opacity="0.06"/><rect x="288.0" y="270.0" width="82.0" height="37.0" rx="10.0" fill="#8c1c1f"/><polygon points="276.0,377.0 402.0,377.0 430.0,479.0 276.0,479.0" fill="#26282a"/><polygon points="290.0,385.0 394.0,385.0 410.0,420.0 290.0,420.0" fill="#6b6d6c"/><polygon points="290.0,422.0 410.0,422.0 424.0,472.0 290.0,472.0" fill="#4a4c4b"/><ellipse cx="350" cy="455" rx="45" ry="16" fill="#c8c8c8" opacity="0.6"/><polygon points="318.0,392.0 352.0,389.0 360.0,438.0 326.0,442.0" fill="#e07a30"/><polygon points="318.0,392.0 326.0,442.0 316.0,436.0 309.0,396.0" fill="#c9c9c9"/><path d="M203.0,263.0 v40 a41,13 0 0 0 82,0 v-40 Z" fill="#8e1b20"/><path d="M203.0,293.0 v10 a41,13 0 0 0 82,0 v-10 Z" fill="#a82026" opacity="0.6"/><rect x="201.0" y="215.0" width="85.0" height="52.0" rx="6.0" fill="#1d1d1f"/><path d="M201.0,265.0 a42.5,10 0 0 0 85,0 Z" fill="#1d1d1f"/><polygon points="170.0,0.0 290.0,0.0 300.0,12.0 180.0,12.0" fill="#1d1d1f"/><line x1="231.0" y1="5.0" x2="238.0" y2="225.0" stroke="#1d1d1f" stroke-width="30.0" stroke-linecap="butt"/><line x1="290.0" y1="10.0" x2="360.0" y2="60.0" stroke="#2e2e31" stroke-width="60.0" stroke-linecap="round"/><line x1="360.0" y1="60.0" x2="375.0" y2="150.0" stroke="#1d1d1f" stroke-width="64.0" stroke-linecap="round"/><rect x="350.0" y="125.0" width="42.0" height="13.0" rx="0.0" fill="#c98a64"/><line x1="372.0" y1="150.0" x2="365.0" y2="285.0" stroke="#2e2e31" stroke-width="54.0" stroke-linecap="round"/><rect x="285.0" y="280.0" width="143.0" height="20.0" rx="0.0" fill="#1d1d1f"/><polygon points="290.0,300.0 308.0,300.0 300.0,352.0 292.0,350.0" fill="#9a9a9a"/><polygon points="398.0,300.0 416.0,300.0 402.0,352.0 392.0,350.0" fill="#9a9a9a"/><ellipse cx="410" cy="330" rx="60" ry="40" fill="#000" opacity="0.07"/></svg></svg><svg style="position:absolute;left:1950.2px;top:774.2px;" width="544.3" height="82.9" viewBox="0 0 2246.0 342" ><svg x="0.0" y="0" width="377.33" height="342" viewBox="0 0 377.33 342" overflow="hidden"><polygon points="0.0,82.0 150.0,62.0 378.0,192.0 378.0,342.0 0.0,342.0" fill="url(#tan2)"/><polygon points="2.0,200.0 100.0,173.0 132.0,220.0 35.0,267.0" fill="#1c1d1f"/><polygon points="14.0,204.0 96.0,182.0 120.0,219.0 40.0,252.0" fill="#47484a"/><polygon points="14.0,204.0 96.0,182.0 102.0,192.0 22.0,216.0" fill="#2a2b2d"/><polygon points="50.0,204.0 66.0,199.0 70.0,238.0 54.0,243.0" fill="#e8251c"/><polygon points="54.0,226.0 68.0,222.0 70.0,238.0 54.0,243.0" fill="#f07a1a"/><polygon points="233.0,162.0 298.0,142.0 372.0,192.0 305.0,217.0" fill="#ececec"/><polygon points="233.0,162.0 305.0,217.0 305.0,282.0 233.0,232.0" fill="#d2d2d4"/><polygon points="305.0,217.0 372.0,192.0 372.0,252.0 305.0,282.0" fill="#e0e0e2"/><polyline points="228.0,240.0 262.0,274.0 288.0,263.0" fill="none" stroke="#e4952d" stroke-width="8"/><rect x="139.0" y="150.0" width="52.0" height="48.0" rx="5.0" fill="#1d1d1f"/><path d="M140,188 v12 a25,9 0 0 0 50,0 v-12 a25,9 0 0 1 -50,0Z" fill="#a01a1c"/><ellipse cx="214" cy="184" rx="17" ry="13" fill="#7a1416"/><polygon points="103.0,12.0 160.0,6.0 168.0,26.0 110.0,36.0" fill="#1d1d1f"/><line x1="140.0" y1="30.0" x2="168.0" y2="160.0" stroke="#1d1d1f" stroke-width="15.0" stroke-linecap="butt"/><line x1="165.0" y1="20.0" x2="215.0" y2="40.0" stroke="#2e2e31" stroke-width="34.0" stroke-linecap="round"/><line x1="215.0" y1="40.0" x2="232.0" y2="110.0" stroke="#1d1d1f" stroke-width="38.0" stroke-linecap="round"/><line x1="230.0" y1="110.0" x2="215.0" y2="170.0" stroke="#2e2e31" stroke-width="30.0" stroke-linecap="round"/><rect x="195.0" y="135.0" width="45.0" height="15.0" rx="0.0" fill="#5a5a5c"/><line x1="200.0" y1="168.0" x2="196.0" y2="195.0" stroke="#555" stroke-width="10.0" stroke-linecap="round"/><line x1="226.0" y1="168.0" x2="228.0" y2="195.0" stroke="#555" stroke-width="10.0" stroke-linecap="round"/><polygon points="197.8,161.6 210.8,203.5 198.9,207.2 228.0,240.0 233.2,196.5 221.3,200.2 208.2,158.4" fill="#ff1a1a"/></svg><svg x="374.3" y="0" width="377.33" height="342" viewBox="0 0 377.33 342" overflow="hidden"><polygon points="0.0,82.0 150.0,62.0 378.0,192.0 378.0,342.0 0.0,342.0" fill="url(#tan2)"/><polygon points="2.0,200.0 100.0,173.0 132.0,220.0 35.0,267.0" fill="#1c1d1f"/><polygon points="14.0,204.0 96.0,182.0 120.0,219.0 40.0,252.0" fill="#47484a"/><polygon points="14.0,204.0 96.0,182.0 102.0,192.0 22.0,216.0" fill="#2a2b2d"/><polygon points="50.0,204.0 66.0,199.0 70.0,238.0 54.0,243.0" fill="#e8251c"/><polygon points="54.0,226.0 68.0,222.0 70.0,238.0 54.0,243.0" fill="#f07a1a"/><polygon points="233.0,162.0 298.0,142.0 372.0,192.0 305.0,217.0" fill="#ececec"/><polygon points="233.0,162.0 305.0,217.0 305.0,282.0 233.0,232.0" fill="#d2d2d4"/><polygon points="305.0,217.0 372.0,192.0 372.0,252.0 305.0,282.0" fill="#e0e0e2"/><polyline points="228.0,240.0 262.0,274.0 288.0,263.0" fill="none" stroke="#e4952d" stroke-width="8"/><rect x="139.0" y="150.0" width="52.0" height="48.0" rx="5.0" fill="#1d1d1f"/><path d="M140,188 v12 a25,9 0 0 0 50,0 v-12 a25,9 0 0 1 -50,0Z" fill="#a01a1c"/><ellipse cx="214" cy="184" rx="17" ry="13" fill="#7a1416"/><polygon points="112.0,4.0 180.0,2.0 182.0,24.0 118.0,30.0" fill="#1d1d1f"/><line x1="148.0" y1="28.0" x2="172.0" y2="158.0" stroke="#1d1d1f" stroke-width="15.0" stroke-linecap="butt"/><line x1="165.0" y1="25.0" x2="235.0" y2="110.0" stroke="#1d1d1f" stroke-width="24.0" stroke-linecap="round"/><line x1="235.0" y1="105.0" x2="252.0" y2="185.0" stroke="#2e2e31" stroke-width="40.0" stroke-linecap="round"/><line x1="250.0" y1="185.0" x2="240.0" y2="235.0" stroke="#1d1d1f" stroke-width="30.0" stroke-linecap="round"/><line x1="226.0" y1="232.0" x2="220.0" y2="252.0" stroke="#555" stroke-width="9.0" stroke-linecap="round"/><line x1="250.0" y1="236.0" x2="252.0" y2="254.0" stroke="#555" stroke-width="9.0" stroke-linecap="round"/><polygon points="244.8,244.1 203.8,252.7 200.9,239.0 160.0,268.0 209.1,278.2 206.3,264.4 247.2,255.9" fill="#ff1a1a"/></svg><svg x="748.7" y="0" width="377.33" height="342" viewBox="0 0 377.33 342" overflow="hidden"><polygon points="0.0,82.0 150.0,62.0 378.0,192.0 378.0,342.0 0.0,342.0" fill="url(#tan2)"/><polygon points="2.0,200.0 100.0,173.0 132.0,220.0 35.0,267.0" fill="#1c1d1f"/><polygon points="14.0,204.0 96.0,182.0 120.0,219.0 40.0,252.0" fill="#47484a"/><polygon points="14.0,204.0 96.0,182.0 102.0,192.0 22.0,216.0" fill="#2a2b2d"/><polygon points="50.0,204.0 66.0,199.0 70.0,238.0 54.0,243.0" fill="#e8251c"/><polygon points="54.0,226.0 68.0,222.0 70.0,238.0 54.0,243.0" fill="#f07a1a"/><polygon points="233.0,162.0 298.0,142.0 372.0,192.0 305.0,217.0" fill="#ececec"/><polygon points="233.0,162.0 305.0,217.0 305.0,282.0 233.0,232.0" fill="#d2d2d4"/><polygon points="305.0,217.0 372.0,192.0 372.0,252.0 305.0,282.0" fill="#e0e0e2"/><polyline points="228.0,240.0 262.0,274.0 288.0,263.0" fill="none" stroke="#e4952d" stroke-width="8"/><rect x="139.0" y="150.0" width="52.0" height="48.0" rx="5.0" fill="#1d1d1f"/><path d="M140,188 v12 a25,9 0 0 0 50,0 v-12 a25,9 0 0 1 -50,0Z" fill="#a01a1c"/><ellipse cx="214" cy="184" rx="17" ry="13" fill="#7a1416"/><polygon points="112.0,4.0 180.0,2.0 182.0,24.0 118.0,30.0" fill="#1d1d1f"/><line x1="148.0" y1="28.0" x2="172.0" y2="158.0" stroke="#1d1d1f" stroke-width="15.0" stroke-linecap="butt"/><line x1="165.0" y1="25.0" x2="235.0" y2="110.0" stroke="#1d1d1f" stroke-width="24.0" stroke-linecap="round"/><line x1="235.0" y1="105.0" x2="252.0" y2="185.0" stroke="#2e2e31" stroke-width="40.0" stroke-linecap="round"/><line x1="250.0" y1="185.0" x2="240.0" y2="235.0" stroke="#1d1d1f" stroke-width="30.0" stroke-linecap="round"/><line x1="226.0" y1="232.0" x2="220.0" y2="252.0" stroke="#555" stroke-width="9.0" stroke-linecap="round"/><line x1="250.0" y1="236.0" x2="252.0" y2="254.0" stroke="#555" stroke-width="9.0" stroke-linecap="round"/><polygon points="230.5,260.2 191.0,270.5 187.4,257.0 148.0,288.0 197.6,295.7 194.0,282.1 233.5,271.8" fill="#ff1a1a"/></svg><svg x="1123.0" y="0" width="377.33" height="342" viewBox="0 0 377.33 342" overflow="hidden"><polygon points="0.0,82.0 150.0,62.0 378.0,192.0 378.0,342.0 0.0,342.0" fill="url(#tan2)"/><polygon points="2.0,200.0 100.0,173.0 132.0,220.0 35.0,267.0" fill="#1c1d1f"/><polygon points="14.0,204.0 96.0,182.0 120.0,219.0 40.0,252.0" fill="#47484a"/><polygon points="14.0,204.0 96.0,182.0 102.0,192.0 22.0,216.0" fill="#2a2b2d"/><polygon points="50.0,204.0 66.0,199.0 70.0,238.0 54.0,243.0" fill="#e8251c"/><polygon points="54.0,226.0 68.0,222.0 70.0,238.0 54.0,243.0" fill="#f07a1a"/><polygon points="233.0,162.0 298.0,142.0 372.0,192.0 305.0,217.0" fill="#ececec"/><polygon points="233.0,162.0 305.0,217.0 305.0,282.0 233.0,232.0" fill="#d2d2d4"/><polygon points="305.0,217.0 372.0,192.0 372.0,252.0 305.0,282.0" fill="#e0e0e2"/><polygon points="205.0,246.0 299.4,282.0 299.4,300.0 205.0,264.0" fill="#f4f4f4"/><polygon points="212.0,229.0 300.0,205.0 330.0,240.0 245.2,270.4" fill="#fbfbfb"/><polygon points="229.6,235.2 296.0,214.0 316.0,238.0 254.0,259.0" fill="#e6e6e6"/><polyline points="200.0,255.4 234.0,289.4 260.0,278.4" fill="none" stroke="#e4952d" stroke-width="8"/><rect x="139.0" y="150.0" width="52.0" height="48.0" rx="5.0" fill="#1d1d1f"/><path d="M140,188 v12 a25,9 0 0 0 50,0 v-12 a25,9 0 0 1 -50,0Z" fill="#a01a1c"/><ellipse cx="214" cy="184" rx="17" ry="13" fill="#7a1416"/><polygon points="118.0,4.0 190.0,2.0 186.0,26.0 124.0,30.0" fill="#1d1d1f"/><line x1="155.0" y1="28.0" x2="155.0" y2="120.0" stroke="#1d1d1f" stroke-width="30.0" stroke-linecap="butt"/><line x1="155.0" y1="110.0" x2="150.0" y2="230.0" stroke="#2e2e31" stroke-width="50.0" stroke-linecap="round"/><rect x="118.0" y="262.0" width="67.0" height="14.0" rx="0.0" fill="#1d1d1f"/><line x1="126.0" y1="274.0" x2="130.0" y2="300.0" stroke="#555" stroke-width="10.0" stroke-linecap="round"/><line x1="178.0" y1="274.0" x2="172.0" y2="296.0" stroke="#555" stroke-width="10.0" stroke-linecap="round"/><line x1="150.0" y1="225.0" x2="150.0" y2="265.0" stroke="#1d1d1f" stroke-width="34.0" stroke-linecap="round"/><path d="M150.0,256.0 Q160.0,205.0 200.0,228.0" fill="none" stroke="#1fe61f" stroke-width="8" stroke-linecap="round"/><polygon points="195.0,222.0 200.3,226.4 192.1,236.4 222.0,244.0 208.5,216.2 200.3,226.3 195.0,222.0" fill="#1fe61f"/><circle cx="226" cy="252" r="8" fill="#4a6a2a"/></svg><svg x="1497.3" y="0" width="377.33" height="342" viewBox="0 0 377.33 342" overflow="hidden"><polygon points="0.0,82.0 150.0,62.0 378.0,192.0 378.0,342.0 0.0,342.0" fill="url(#tan2)"/><polygon points="2.0,200.0 100.0,173.0 132.0,220.0 35.0,267.0" fill="#1c1d1f"/><polygon points="14.0,204.0 96.0,182.0 120.0,219.0 40.0,252.0" fill="#47484a"/><polygon points="14.0,204.0 96.0,182.0 102.0,192.0 22.0,216.0" fill="#2a2b2d"/><polygon points="50.0,204.0 66.0,199.0 70.0,238.0 54.0,243.0" fill="#e8251c"/><polygon points="54.0,226.0 68.0,222.0 70.0,238.0 54.0,243.0" fill="#f07a1a"/><polygon points="233.0,162.0 298.0,142.0 372.0,192.0 305.0,217.0" fill="#ececec"/><polygon points="233.0,162.0 305.0,217.0 305.0,282.0 233.0,232.0" fill="#d2d2d4"/><polygon points="305.0,217.0 372.0,192.0 372.0,252.0 305.0,282.0" fill="#e0e0e2"/><polygon points="193.0,252.0 297.0,282.0 297.0,300.0 193.0,270.0" fill="#f4f4f4"/><polygon points="200.0,235.0 300.0,205.0 330.0,240.0 238.0,274.0" fill="#fbfbfb"/><polygon points="220.0,240.0 296.0,214.0 316.0,238.0 248.0,262.0" fill="#e6e6e6"/><polyline points="188.0,262.0 222.0,296.0 248.0,285.0" fill="none" stroke="#e4952d" stroke-width="8"/><rect x="139.0" y="150.0" width="52.0" height="48.0" rx="5.0" fill="#1d1d1f"/><path d="M140,188 v12 a25,9 0 0 0 50,0 v-12 a25,9 0 0 1 -50,0Z" fill="#a01a1c"/><ellipse cx="214" cy="184" rx="17" ry="13" fill="#7a1416"/><polygon points="118.0,4.0 190.0,2.0 186.0,26.0 124.0,30.0" fill="#1d1d1f"/><line x1="150.0" y1="28.0" x2="172.0" y2="158.0" stroke="#1d1d1f" stroke-width="15.0" stroke-linecap="butt"/><line x1="168.0" y1="25.0" x2="225.0" y2="120.0" stroke="#1d1d1f" stroke-width="26.0" stroke-linecap="round"/><line x1="225.0" y1="115.0" x2="236.0" y2="200.0" stroke="#2e2e31" stroke-width="42.0" stroke-linecap="round"/><line x1="234.0" y1="200.0" x2="222.0" y2="250.0" stroke="#1d1d1f" stroke-width="30.0" stroke-linecap="round"/><polygon points="217.0,240.0 217.0,182.0 231.0,182.0 211.0,134.0 191.0,182.0 205.0,182.0 205.0,240.0" fill="#1fe61f"/></svg><svg x="1871.6" y="0" width="374.33" height="342" viewBox="0 0 374.33 342" overflow="hidden"><polygon points="0.0,82.0 150.0,62.0 378.0,192.0 378.0,342.0 0.0,342.0" fill="url(#tan2)"/><polygon points="2.0,200.0 100.0,173.0 132.0,220.0 35.0,267.0" fill="#1c1d1f"/><polygon points="14.0,204.0 96.0,182.0 120.0,219.0 40.0,252.0" fill="#47484a"/><polygon points="14.0,204.0 96.0,182.0 102.0,192.0 22.0,216.0" fill="#2a2b2d"/><polygon points="50.0,204.0 66.0,199.0 70.0,238.0 54.0,243.0" fill="#e8251c"/><polygon points="54.0,226.0 68.0,222.0 70.0,238.0 54.0,243.0" fill="#f07a1a"/><polygon points="233.0,162.0 298.0,142.0 372.0,192.0 305.0,217.0" fill="#ececec"/><polygon points="233.0,162.0 305.0,217.0 305.0,282.0 233.0,232.0" fill="#d2d2d4"/><polygon points="305.0,217.0 372.0,192.0 372.0,252.0 305.0,282.0" fill="#e0e0e2"/><polygon points="193.0,252.0 297.0,282.0 297.0,300.0 193.0,270.0" fill="#f4f4f4"/><polygon points="200.0,235.0 300.0,205.0 330.0,240.0 238.0,274.0" fill="#fbfbfb"/><polygon points="220.0,240.0 296.0,214.0 316.0,238.0 248.0,262.0" fill="#e6e6e6"/><polyline points="188.0,262.0 222.0,296.0 248.0,285.0" fill="none" stroke="#e4952d" stroke-width="8"/><rect x="139.0" y="150.0" width="52.0" height="48.0" rx="5.0" fill="#1d1d1f"/><path d="M140,188 v12 a25,9 0 0 0 50,0 v-12 a25,9 0 0 1 -50,0Z" fill="#a01a1c"/><ellipse cx="214" cy="184" rx="17" ry="13" fill="#7a1416"/><polygon points="103.0,12.0 160.0,6.0 168.0,26.0 110.0,36.0" fill="#1d1d1f"/><line x1="140.0" y1="30.0" x2="168.0" y2="160.0" stroke="#1d1d1f" stroke-width="15.0" stroke-linecap="butt"/><line x1="165.0" y1="20.0" x2="215.0" y2="40.0" stroke="#2e2e31" stroke-width="34.0" stroke-linecap="round"/><line x1="215.0" y1="40.0" x2="232.0" y2="110.0" stroke="#1d1d1f" stroke-width="38.0" stroke-linecap="round"/><line x1="230.0" y1="110.0" x2="215.0" y2="170.0" stroke="#2e2e31" stroke-width="30.0" stroke-linecap="round"/><rect x="195.0" y="135.0" width="45.0" height="15.0" rx="0.0" fill="#5a5a5c"/><line x1="200.0" y1="168.0" x2="196.0" y2="195.0" stroke="#555" stroke-width="10.0" stroke-linecap="round"/><line x1="226.0" y1="168.0" x2="228.0" y2="195.0" stroke="#555" stroke-width="10.0" stroke-linecap="round"/></svg></svg><svg style="position:absolute;left:1950.2px;top:864.4px;" width="544.3" height="81.9" viewBox="0 0 2246.0 338" ><svg x="0.0" y="0" width="377.33" height="338" viewBox="0 0 377.33 338" overflow="hidden"><polygon points="0.0,82.0 150.0,62.0 378.0,192.0 378.0,342.0 0.0,342.0" fill="url(#tan2)"/><polygon points="2.0,200.0 100.0,173.0 132.0,220.0 35.0,267.0" fill="#1c1d1f"/><polygon points="14.0,204.0 96.0,182.0 120.0,219.0 40.0,252.0" fill="#47484a"/><polygon points="14.0,204.0 96.0,182.0 102.0,192.0 22.0,216.0" fill="#2a2b2d"/><polygon points="50.0,204.0 66.0,199.0 70.0,238.0 54.0,243.0" fill="#e8251c"/><polygon points="54.0,226.0 68.0,222.0 70.0,238.0 54.0,243.0" fill="#f07a1a"/><polygon points="233.0,162.0 298.0,142.0 372.0,192.0 305.0,217.0" fill="#ececec"/><polygon points="233.0,162.0 305.0,217.0 305.0,282.0 233.0,232.0" fill="#d2d2d4"/><polygon points="305.0,217.0 372.0,192.0 372.0,252.0 305.0,282.0" fill="#e0e0e2"/><polyline points="228.0,240.0 262.0,274.0 288.0,263.0" fill="none" stroke="#e4952d" stroke-width="8"/><rect x="139.0" y="150.0" width="52.0" height="48.0" rx="5.0" fill="#1d1d1f"/><path d="M140,188 v12 a25,9 0 0 0 50,0 v-12 a25,9 0 0 1 -50,0Z" fill="#a01a1c"/><ellipse cx="214" cy="184" rx="17" ry="13" fill="#7a1416"/><polygon points="103.0,12.0 160.0,6.0 168.0,26.0 110.0,36.0" fill="#1d1d1f"/><line x1="140.0" y1="30.0" x2="168.0" y2="160.0" stroke="#1d1d1f" stroke-width="15.0" stroke-linecap="butt"/><line x1="165.0" y1="20.0" x2="215.0" y2="40.0" stroke="#2e2e31" stroke-width="34.0" stroke-linecap="round"/><line x1="215.0" y1="40.0" x2="232.0" y2="110.0" stroke="#1d1d1f" stroke-width="38.0" stroke-linecap="round"/><line x1="230.0" y1="110.0" x2="215.0" y2="170.0" stroke="#2e2e31" stroke-width="30.0" stroke-linecap="round"/><rect x="195.0" y="135.0" width="45.0" height="15.0" rx="0.0" fill="#5a5a5c"/><line x1="200.0" y1="168.0" x2="196.0" y2="195.0" stroke="#555" stroke-width="10.0" stroke-linecap="round"/><line x1="226.0" y1="168.0" x2="228.0" y2="195.0" stroke="#555" stroke-width="10.0" stroke-linecap="round"/><path d="M218.0,158.0 Q140.0,185.0 205.0,205.0" fill="none" stroke="#ff1a1a" stroke-width="8" stroke-linecap="round"/><polygon points="200.0,204.0 201.1,204.4 197.5,216.8 228.0,212.0 204.6,191.8 201.1,204.3 200.0,204.0" fill="#ff1a1a"/></svg><svg x="374.3" y="0" width="377.33" height="338" viewBox="0 0 377.33 338" overflow="hidden"><polygon points="0.0,82.0 150.0,62.0 378.0,192.0 378.0,342.0 0.0,342.0" fill="url(#tan2)"/><polygon points="2.0,200.0 100.0,173.0 132.0,220.0 35.0,267.0" fill="#1c1d1f"/><polygon points="14.0,204.0 96.0,182.0 120.0,219.0 40.0,252.0" fill="#47484a"/><polygon points="14.0,204.0 96.0,182.0 102.0,192.0 22.0,216.0" fill="#2a2b2d"/><polygon points="50.0,204.0 66.0,199.0 70.0,238.0 54.0,243.0" fill="#e8251c"/><polygon points="54.0,226.0 68.0,222.0 70.0,238.0 54.0,243.0" fill="#f07a1a"/><polygon points="233.0,162.0 298.0,142.0 372.0,192.0 305.0,217.0" fill="#ececec"/><polygon points="233.0,162.0 305.0,217.0 305.0,282.0 233.0,232.0" fill="#d2d2d4"/><polygon points="305.0,217.0 372.0,192.0 372.0,252.0 305.0,282.0" fill="#e0e0e2"/><polyline points="228.0,240.0 262.0,274.0 288.0,263.0" fill="none" stroke="#e4952d" stroke-width="8"/><rect x="139.0" y="150.0" width="52.0" height="48.0" rx="5.0" fill="#1d1d1f"/><path d="M140,188 v12 a25,9 0 0 0 50,0 v-12 a25,9 0 0 1 -50,0Z" fill="#a01a1c"/><ellipse cx="214" cy="184" rx="17" ry="13" fill="#7a1416"/><polygon points="112.0,4.0 180.0,2.0 182.0,24.0 118.0,30.0" fill="#1d1d1f"/><line x1="148.0" y1="28.0" x2="172.0" y2="158.0" stroke="#1d1d1f" stroke-width="15.0" stroke-linecap="butt"/><line x1="165.0" y1="25.0" x2="235.0" y2="110.0" stroke="#1d1d1f" stroke-width="24.0" stroke-linecap="round"/><line x1="235.0" y1="105.0" x2="252.0" y2="185.0" stroke="#2e2e31" stroke-width="40.0" stroke-linecap="round"/><line x1="250.0" y1="185.0" x2="240.0" y2="235.0" stroke="#1d1d1f" stroke-width="30.0" stroke-linecap="round"/><line x1="226.0" y1="232.0" x2="220.0" y2="252.0" stroke="#555" stroke-width="9.0" stroke-linecap="round"/><line x1="250.0" y1="236.0" x2="252.0" y2="254.0" stroke="#555" stroke-width="9.0" stroke-linecap="round"/><polygon points="206.0,241.1 243.0,226.5 247.5,238.2 280.0,206.0 234.3,204.7 238.9,216.3 202.0,230.9" fill="#ff1a1a"/></svg><svg x="748.7" y="0" width="377.33" height="338" viewBox="0 0 377.33 338" overflow="hidden"><polygon points="0.0,82.0 150.0,62.0 378.0,192.0 378.0,342.0 0.0,342.0" fill="url(#tan2)"/><polygon points="2.0,200.0 100.0,173.0 132.0,220.0 35.0,267.0" fill="#1c1d1f"/><polygon points="14.0,204.0 96.0,182.0 120.0,219.0 40.0,252.0" fill="#47484a"/><polygon points="14.0,204.0 96.0,182.0 102.0,192.0 22.0,216.0" fill="#2a2b2d"/><polygon points="50.0,204.0 66.0,199.0 70.0,238.0 54.0,243.0" fill="#e8251c"/><polygon points="54.0,226.0 68.0,222.0 70.0,238.0 54.0,243.0" fill="#f07a1a"/><polygon points="233.0,162.0 298.0,142.0 372.0,192.0 305.0,217.0" fill="#ececec"/><polygon points="233.0,162.0 305.0,217.0 305.0,282.0 233.0,232.0" fill="#d2d2d4"/><polygon points="305.0,217.0 372.0,192.0 372.0,252.0 305.0,282.0" fill="#e0e0e2"/><polyline points="228.0,240.0 262.0,274.0 288.0,263.0" fill="none" stroke="#e4952d" stroke-width="8"/><rect x="139.0" y="150.0" width="52.0" height="48.0" rx="5.0" fill="#1d1d1f"/><path d="M140,188 v12 a25,9 0 0 0 50,0 v-12 a25,9 0 0 1 -50,0Z" fill="#a01a1c"/><ellipse cx="214" cy="184" rx="17" ry="13" fill="#7a1416"/><polygon points="112.0,4.0 180.0,2.0 182.0,24.0 118.0,30.0" fill="#1d1d1f"/><line x1="148.0" y1="28.0" x2="172.0" y2="158.0" stroke="#1d1d1f" stroke-width="15.0" stroke-linecap="butt"/><line x1="165.0" y1="25.0" x2="235.0" y2="110.0" stroke="#1d1d1f" stroke-width="24.0" stroke-linecap="round"/><line x1="235.0" y1="105.0" x2="252.0" y2="185.0" stroke="#2e2e31" stroke-width="40.0" stroke-linecap="round"/><line x1="250.0" y1="185.0" x2="240.0" y2="235.0" stroke="#1d1d1f" stroke-width="30.0" stroke-linecap="round"/><line x1="226.0" y1="232.0" x2="220.0" y2="252.0" stroke="#555" stroke-width="9.0" stroke-linecap="round"/><line x1="250.0" y1="236.0" x2="252.0" y2="254.0" stroke="#555" stroke-width="9.0" stroke-linecap="round"/><polygon points="227.3,216.3 237.4,237.9 230.2,241.3 252.0,262.0 250.1,232.0 242.8,235.4 232.7,213.7" fill="#ff1a1a"/></svg><svg x="1123.0" y="0" width="377.33" height="338" viewBox="0 0 377.33 338" overflow="hidden"><polygon points="0.0,82.0 150.0,62.0 378.0,192.0 378.0,342.0 0.0,342.0" fill="url(#tan2)"/><polygon points="2.0,200.0 100.0,173.0 132.0,220.0 35.0,267.0" fill="#1c1d1f"/><polygon points="14.0,204.0 96.0,182.0 120.0,219.0 40.0,252.0" fill="#47484a"/><polygon points="14.0,204.0 96.0,182.0 102.0,192.0 22.0,216.0" fill="#2a2b2d"/><polygon points="50.0,204.0 66.0,199.0 70.0,238.0 54.0,243.0" fill="#e8251c"/><polygon points="54.0,226.0 68.0,222.0 70.0,238.0 54.0,243.0" fill="#f07a1a"/><polygon points="233.0,162.0 298.0,142.0 372.0,192.0 305.0,217.0" fill="#ececec"/><polygon points="233.0,162.0 305.0,217.0 305.0,282.0 233.0,232.0" fill="#d2d2d4"/><polygon points="305.0,217.0 372.0,192.0 372.0,252.0 305.0,282.0" fill="#e0e0e2"/><polyline points="228.0,240.0 262.0,274.0 288.0,263.0" fill="none" stroke="#e4952d" stroke-width="8"/><rect x="139.0" y="150.0" width="52.0" height="48.0" rx="5.0" fill="#1d1d1f"/><path d="M140,188 v12 a25,9 0 0 0 50,0 v-12 a25,9 0 0 1 -50,0Z" fill="#a01a1c"/><ellipse cx="214" cy="184" rx="17" ry="13" fill="#7a1416"/><polygon points="112.0,4.0 180.0,2.0 182.0,24.0 118.0,30.0" fill="#1d1d1f"/><line x1="148.0" y1="28.0" x2="172.0" y2="158.0" stroke="#1d1d1f" stroke-width="15.0" stroke-linecap="butt"/><line x1="165.0" y1="25.0" x2="235.0" y2="110.0" stroke="#1d1d1f" stroke-width="24.0" stroke-linecap="round"/><line x1="235.0" y1="105.0" x2="252.0" y2="185.0" stroke="#2e2e31" stroke-width="40.0" stroke-linecap="round"/><line x1="250.0" y1="185.0" x2="240.0" y2="235.0" stroke="#1d1d1f" stroke-width="30.0" stroke-linecap="round"/><line x1="226.0" y1="232.0" x2="220.0" y2="252.0" stroke="#555" stroke-width="9.0" stroke-linecap="round"/><line x1="250.0" y1="236.0" x2="252.0" y2="254.0" stroke="#555" stroke-width="9.0" stroke-linecap="round"/><polygon points="250.5,242.2 193.1,256.8 189.6,243.3 150.0,274.0 199.5,282.0 196.1,268.5 253.5,253.8" fill="#ff1a1a"/></svg><svg x="1497.3" y="0" width="377.33" height="338" viewBox="0 0 377.33 338" overflow="hidden"><polygon points="0.0,82.0 150.0,62.0 378.0,192.0 378.0,342.0 0.0,342.0" fill="url(#tan2)"/><polygon points="2.0,200.0 100.0,173.0 132.0,220.0 35.0,267.0" fill="#1c1d1f"/><polygon points="14.0,204.0 96.0,182.0 120.0,219.0 40.0,252.0" fill="#47484a"/><polygon points="14.0,204.0 96.0,182.0 102.0,192.0 22.0,216.0" fill="#2a2b2d"/><polygon points="50.0,204.0 66.0,199.0 70.0,238.0 54.0,243.0" fill="#e8251c"/><polygon points="54.0,226.0 68.0,222.0 70.0,238.0 54.0,243.0" fill="#f07a1a"/><polygon points="233.0,162.0 298.0,142.0 372.0,192.0 305.0,217.0" fill="#ececec"/><polygon points="233.0,162.0 305.0,217.0 305.0,282.0 233.0,232.0" fill="#d2d2d4"/><polygon points="305.0,217.0 372.0,192.0 372.0,252.0 305.0,282.0" fill="#e0e0e2"/><polygon points="193.0,252.0 297.0,282.0 297.0,300.0 193.0,270.0" fill="#f4f4f4"/><polygon points="200.0,235.0 300.0,205.0 330.0,240.0 238.0,274.0" fill="#fbfbfb"/><polygon points="220.0,240.0 296.0,214.0 316.0,238.0 248.0,262.0" fill="#e6e6e6"/><polyline points="188.0,262.0 222.0,296.0 248.0,285.0" fill="none" stroke="#e4952d" stroke-width="8"/><rect x="139.0" y="150.0" width="52.0" height="48.0" rx="5.0" fill="#1d1d1f"/><path d="M140,188 v12 a25,9 0 0 0 50,0 v-12 a25,9 0 0 1 -50,0Z" fill="#a01a1c"/><ellipse cx="214" cy="184" rx="17" ry="13" fill="#7a1416"/><polygon points="118.0,4.0 190.0,2.0 186.0,26.0 124.0,30.0" fill="#1d1d1f"/><line x1="150.0" y1="28.0" x2="172.0" y2="158.0" stroke="#1d1d1f" stroke-width="15.0" stroke-linecap="butt"/><line x1="168.0" y1="25.0" x2="225.0" y2="120.0" stroke="#1d1d1f" stroke-width="26.0" stroke-linecap="round"/><line x1="225.0" y1="115.0" x2="236.0" y2="200.0" stroke="#2e2e31" stroke-width="42.0" stroke-linecap="round"/><line x1="234.0" y1="200.0" x2="222.0" y2="250.0" stroke="#1d1d1f" stroke-width="30.0" stroke-linecap="round"/><polygon points="215.4,254.4 202.6,179.9 212.9,178.1 193.0,145.0 185.3,182.9 195.7,181.1 208.6,255.6" fill="#1fe61f"/><polygon points="198.0,160.0 221.7,261.0 221.7,261.0 222.0,262.0 221.8,261.0 221.8,261.0 198.0,160.0" fill="#1fe61f"/><polygon points="230.5,185.1 231.5,218.1 222.0,218.4 236.0,250.0 248.0,217.6 238.5,217.9 237.5,184.9" fill="#1fe61f"/><path d="M212,255 Q222,275 236,250" fill="none" stroke="#1fe61f" stroke-width="7"/></svg><svg x="1871.6" y="0" width="374.33" height="338" viewBox="0 0 374.33 338" overflow="hidden"><polygon points="0.0,82.0 150.0,62.0 378.0,192.0 378.0,342.0 0.0,342.0" fill="url(#tan2)"/><polygon points="2.0,200.0 100.0,173.0 132.0,220.0 35.0,267.0" fill="#1c1d1f"/><polygon points="14.0,204.0 96.0,182.0 120.0,219.0 40.0,252.0" fill="#47484a"/><polygon points="14.0,204.0 96.0,182.0 102.0,192.0 22.0,216.0" fill="#2a2b2d"/><polygon points="50.0,204.0 66.0,199.0 70.0,238.0 54.0,243.0" fill="#e8251c"/><polygon points="54.0,226.0 68.0,222.0 70.0,238.0 54.0,243.0" fill="#f07a1a"/><polygon points="233.0,162.0 298.0,142.0 372.0,192.0 305.0,217.0" fill="#ececec"/><polygon points="233.0,162.0 305.0,217.0 305.0,282.0 233.0,232.0" fill="#d2d2d4"/><polygon points="305.0,217.0 372.0,192.0 372.0,252.0 305.0,282.0" fill="#e0e0e2"/><polygon points="193.0,252.0 297.0,282.0 297.0,300.0 193.0,270.0" fill="#f4f4f4"/><polygon points="200.0,235.0 300.0,205.0 330.0,240.0 238.0,274.0" fill="#fbfbfb"/><polygon points="220.0,240.0 296.0,214.0 316.0,238.0 248.0,262.0" fill="#e6e6e6"/><polyline points="188.0,262.0 222.0,296.0 248.0,285.0" fill="none" stroke="#e4952d" stroke-width="8"/><rect x="139.0" y="150.0" width="52.0" height="48.0" rx="5.0" fill="#1d1d1f"/><path d="M140,188 v12 a25,9 0 0 0 50,0 v-12 a25,9 0 0 1 -50,0Z" fill="#a01a1c"/><ellipse cx="214" cy="184" rx="17" ry="13" fill="#7a1416"/><polygon points="103.0,12.0 160.0,6.0 168.0,26.0 110.0,36.0" fill="#1d1d1f"/><line x1="140.0" y1="30.0" x2="168.0" y2="160.0" stroke="#1d1d1f" stroke-width="15.0" stroke-linecap="butt"/><line x1="165.0" y1="20.0" x2="215.0" y2="40.0" stroke="#2e2e31" stroke-width="34.0" stroke-linecap="round"/><line x1="215.0" y1="40.0" x2="232.0" y2="110.0" stroke="#1d1d1f" stroke-width="38.0" stroke-linecap="round"/><line x1="230.0" y1="110.0" x2="215.0" y2="170.0" stroke="#2e2e31" stroke-width="30.0" stroke-linecap="round"/><rect x="195.0" y="135.0" width="45.0" height="15.0" rx="0.0" fill="#5a5a5c"/><line x1="200.0" y1="168.0" x2="196.0" y2="195.0" stroke="#555" stroke-width="10.0" stroke-linecap="round"/><line x1="226.0" y1="168.0" x2="228.0" y2="195.0" stroke="#555" stroke-width="10.0" stroke-linecap="round"/></svg></svg>
<!-- g_tables -->
<svg style="position:absolute;left:1320.1px;top:1568.4px;" width="547.4" height="37.7" viewBox="1320.1 1568.4 547.4 37.7" ><g stroke="#7a7a7a" stroke-width="1.1" fill="none"><line x1="1322.1" y1="1570.4" x2="1865.5" y2="1570.4"/><line x1="1322.1" y1="1586.7" x2="1865.5" y2="1586.7"/><line x1="1322.1" y1="1604.1" x2="1865.5" y2="1604.1"/><line x1="1322.1" y1="1570.4" x2="1322.1" y2="1604.1"/><line x1="1394.8" y1="1570.4" x2="1394.8" y2="1604.1"/><line x1="1398.5" y1="1570.4" x2="1398.5" y2="1604.1"/><line x1="1504.6" y1="1570.4" x2="1504.6" y2="1604.1"/><line x1="1578.5" y1="1570.4" x2="1578.5" y2="1604.1"/><line x1="1653.2" y1="1570.4" x2="1653.2" y2="1604.1"/><line x1="1731.2" y1="1570.4" x2="1731.2" y2="1604.1"/><line x1="1798.4" y1="1570.4" x2="1798.4" y2="1604.1"/><line x1="1865.5" y1="1570.4" x2="1865.5" y2="1604.1"/></g><text x="1330.1" y="1582.3" font-size="12.6" fill="#222" style="font-family:'Liberation Serif',serif">Dataset</text><text x="1451.5" y="1582.3" font-size="12.6" fill="#222" text-anchor="middle"  style="font-family:'Liberation Serif',serif">MBRCSL (ours)</text><text x="1541.5" y="1582.3" font-size="12.6" fill="#222" text-anchor="middle"  style="font-family:'Liberation Serif',serif">COMBO</text><text x="1615.8" y="1582.3" font-size="12.6" fill="#222" text-anchor="middle"  style="font-family:'Liberation Serif',serif">MOPO</text><text x="1692.2" y="1582.3" font-size="12.6" fill="#222" text-anchor="middle"  style="font-family:'Liberation Serif',serif">CQL</text><text x="1764.8" y="1582.3" font-size="12.6" fill="#222" text-anchor="middle"  style="font-family:'Liberation Serif',serif">DT</text><text x="1832.0" y="1582.3" font-size="12.6" fill="#222" text-anchor="middle"  style="font-family:'Liberation Serif',serif">%BC</text><text x="1330.1" y="1598.8" font-size="12.6" fill="#222" style="font-family:'Liberation Serif',serif">Pointmaze</text><text x="1451.5" y="1598.8" font-size="12.6" fill="#222" text-anchor="middle" font-weight="700" style="font-family:'Liberation Serif',serif">91.5±7.1</text><text x="1541.5" y="1598.8" font-size="12.6" fill="#222" text-anchor="middle"  style="font-family:'Liberation Serif',serif">56.6±50.1</text><text x="1615.8" y="1598.8" font-size="12.6" fill="#222" text-anchor="middle"  style="font-family:'Liberation Serif',serif">77.9±41.9</text><text x="1692.2" y="1598.8" font-size="12.6" fill="#222" text-anchor="middle"  style="font-family:'Liberation Serif',serif">34.8± 24.9</text><text x="1764.8" y="1598.8" font-size="12.6" fill="#222" text-anchor="middle"  style="font-family:'Liberation Serif',serif">57.2±4.1</text><text x="1832.0" y="1598.8" font-size="12.6" fill="#222" text-anchor="middle"  style="font-family:'Liberation Serif',serif">54.0±9.2</text></svg><svg style="position:absolute;left:1947.0px;top:1006.1px;" width="546.2" height="69.9" viewBox="1947.0 1006.1 546.2 69.9" ><g stroke="#7a7a7a" stroke-width="1.1" fill="none"><line x1="1949.0" y1="1008.1" x2="2491.2" y2="1008.1"/><line x1="1949.0" y1="1024.8" x2="2491.2" y2="1024.8"/><line x1="1949.0" y1="1074.0" x2="2491.2" y2="1074.0"/><line x1="1949.0" y1="1008.1" x2="1949.0" y2="1074.0"/><line x1="2050.2" y1="1008.1" x2="2050.2" y2="1074.0"/><line x1="2053.1" y1="1008.1" x2="2053.1" y2="1074.0"/><line x1="2159.5" y1="1008.1" x2="2159.5" y2="1074.0"/><line x1="2234.0" y1="1008.1" x2="2234.0" y2="1074.0"/><line x1="2299.5" y1="1008.1" x2="2299.5" y2="1074.0"/><line x1="2340.0" y1="1008.1" x2="2340.0" y2="1074.0"/><line x1="2417.4" y1="1008.1" x2="2417.4" y2="1074.0"/><line x1="2491.2" y1="1008.1" x2="2491.2" y2="1074.0"/></g><text x="1957.0" y="1020.0" font-size="13.2" fill="#222" style="font-family:'Liberation Serif',serif">Task</text><text x="2106.3" y="1020.0" font-size="13.2" fill="#222" text-anchor="middle"  style="font-family:'Liberation Serif',serif">MBRCSL (ours)</text><text x="2196.8" y="1020.0" font-size="13.2" fill="#222" text-anchor="middle"  style="font-family:'Liberation Serif',serif">CQL</text><text x="2266.8" y="1020.0" font-size="13.2" fill="#222" text-anchor="middle"  style="font-family:'Liberation Serif',serif">COMBO</text><text x="2319.8" y="1020.0" font-size="13.2" fill="#222" text-anchor="middle"  style="font-family:'Liberation Serif',serif">DT</text><text x="2378.7" y="1020.0" font-size="13.2" fill="#222" text-anchor="middle"  style="font-family:'Liberation Serif',serif">BC</text><text x="2454.3" y="1020.0" font-size="13.2" fill="#222" text-anchor="middle"  style="font-family:'Liberation Serif',serif">MBCQL</text><text x="1957.0" y="1036.7" font-size="13.2" fill="#222" style="font-family:'Liberation Serif',serif">PickPlace</text><text x="2106.3" y="1036.7" font-size="13.2" fill="#222" text-anchor="middle" font-weight="700" style="font-family:'Liberation Serif',serif">0.40±0.16</text><text x="2196.8" y="1036.7" font-size="13.2" fill="#222" text-anchor="middle"  style="font-family:'Liberation Serif',serif">0.22±0.35</text><text x="2266.8" y="1036.7" font-size="13.2" fill="#222" text-anchor="middle"  style="font-family:'Liberation Serif',serif">0±0</text><text x="2319.8" y="1036.7" font-size="13.2" fill="#222" text-anchor="middle"  style="font-family:'Liberation Serif',serif">0±0</text><text x="2378.7" y="1036.7" font-size="13.2" fill="#222" text-anchor="middle"  style="font-family:'Liberation Serif',serif">0.07± 0.03</text><text x="2454.3" y="1036.7" font-size="13.2" fill="#222" text-anchor="middle"  style="font-family:'Liberation Serif',serif">0.08±0.05</text><text x="1957.0" y="1052.9" font-size="13.2" fill="#222" style="font-family:'Liberation Serif',serif">ClosedDrawer</text><text x="2106.3" y="1052.9" font-size="13.2" fill="#222" text-anchor="middle" font-weight="700" style="font-family:'Liberation Serif',serif">0.51±0.12</text><text x="2196.8" y="1052.9" font-size="13.2" fill="#222" text-anchor="middle"  style="font-family:'Liberation Serif',serif">0.11±0.08</text><text x="2266.8" y="1052.9" font-size="13.2" fill="#222" text-anchor="middle"  style="font-family:'Liberation Serif',serif">0±0</text><text x="2319.8" y="1052.9" font-size="13.2" fill="#222" text-anchor="middle"  style="font-family:'Liberation Serif',serif">0±0</text><text x="2378.7" y="1052.9" font-size="13.2" fill="#222" text-anchor="middle"  style="font-family:'Liberation Serif',serif">0.38±0.02</text><text x="2454.3" y="1052.9" font-size="13.2" fill="#222" text-anchor="middle"  style="font-family:'Liberation Serif',serif">0±0</text><text x="1957.0" y="1068.8" font-size="13.2" fill="#222" style="font-family:'Liberation Serif',serif">BlockedDrawer</text><text x="2106.3" y="1068.8" font-size="13.2" fill="#222" text-anchor="middle" font-weight="700" style="font-family:'Liberation Serif',serif">0.68±0.09</text><text x="2196.8" y="1068.8" font-size="13.2" fill="#222" text-anchor="middle"  style="font-family:'Liberation Serif',serif">0.34±0.23</text><text x="2266.8" y="1068.8" font-size="13.2" fill="#222" text-anchor="middle"  style="font-family:'Liberation Serif',serif">0±0</text><text x="2319.8" y="1068.8" font-size="13.2" fill="#222" text-anchor="middle"  style="font-family:'Liberation Serif',serif">0±0</text><text x="2378.7" y="1068.8" font-size="13.2" fill="#222" text-anchor="middle"  style="font-family:'Liberation Serif',serif">0.61±0.02</text><text x="2454.3" y="1068.8" font-size="13.2" fill="#222" text-anchor="middle"  style="font-family:'Liberation Serif',serif">0±0</text></svg>
<div class="t" style="left:94.1px;top:63.8px;font:normal 700 74px/1 'Liberation Sans', sans-serif;color:#fff;-webkit-text-stroke:3.2px #fff;letter-spacing:0.196px;transform:scaleX(1.0053);transform-origin:0 0;">Free from Bellman Completeness: Trajectory Stitching via</div>
<div class="t" style="left:94.1px;top:139.8px;font:normal 700 74px/1 'Liberation Sans', sans-serif;color:#fff;-webkit-text-stroke:3.2px #fff;letter-spacing:0.298px;transform:scaleX(1.0076);transform-origin:0 0;">Model-Based Return-Conditioned Supervised Learning</div>
<div class="t" style="left:96.6px;top:313.0px;font:normal 400 31px/1 'Liberation Sans', sans-serif;color:#fff;letter-spacing:-0.317px;">Zhaoyi Zhou, Chuning Zhu, Runlong Zhou, Qiwen Cui, Abhishek Gupta, Simon S. Du</div>
<div class="t" style="left:85.6px;top:428.7px;font:normal 400 25px/1 'Liberation Sans', sans-serif;color:#000;letter-spacing:0.088px;">To enable scalable off-policy reinforcement</div>
<div class="t" style="left:85.6px;top:457.6px;font:normal 400 25px/1 'Liberation Sans', sans-serif;color:#000;letter-spacing:0.018px;">learning, we need:</div>
<div class="t" style="left:18.7px;top:891.0px;font:normal 700 24.5px/1 'Liberation Sans', sans-serif;color:#33006f;-webkit-text-stroke:0.5px #33006f;letter-spacing:0.260px;">A massive dataset</div>
<div class="t" style="left:283.7px;top:931.8px;font:normal 700 24.5px/1 'Liberation Sans', sans-serif;color:#33006f;-webkit-text-stroke:0.5px #33006f;letter-spacing:0.462px;">An algorithm that can</div>
<div class="t" style="left:283.7px;top:960.7px;font:normal 700 24.5px/1 'Liberation Sans', sans-serif;color:#33006f;-webkit-text-stroke:0.5px #33006f;letter-spacing:0.383px;">consume the data</div>
<div class="t" style="left:64.1px;top:1030.7px;font:normal 700 37.5px/1 'Liberation Sans', sans-serif;color:#33006f;-webkit-text-stroke:0.7px #33006f;letter-spacing:-0.261px;">What algorithm should we use?</div>
<div class="t" style="left:60.6px;top:1123.0px;font:normal 700 40.5px/1 'Liberation Sans', sans-serif;color:#33006f;-webkit-text-stroke:2.0px #33006f;letter-spacing:0.288px;transform:scaleX(1.0118);transform-origin:0 0;">Dynamic Programming?</div>
<div class="t" style="left:143.1px;top:1210.8px;font:normal 400 25px/1 'Liberation Sans', sans-serif;color:#000;letter-spacing:0.247px;">Learn optimal policy from suboptimal data</div>
<div class="t" style="left:143.1px;top:1239.3px;font:normal 400 25px/1 'Liberation Sans', sans-serif;color:#000;letter-spacing:0.154px;">via trajectory stitching.</div>
<div class="t" style="left:142.0px;top:1296.0px;font:normal 400 25px/1 'Liberation Sans', sans-serif;color:#000;letter-spacing:-0.113px;">Can diverge in practice, due to <b style="color:#33006f;-webkit-text-stroke:0.4px #33006f">Bellman</b></div>
<div class="t" style="left:142.0px;top:1324.2px;font:normal 400 25px/1 'Liberation Sans', sans-serif;color:#000;letter-spacing:0.070px;"><b style="color:#33006f;-webkit-text-stroke:0.4px #33006f">completeness</b> requirement.</div>
<div class="t" style="left:83.6px;top:1396.3px;font:normal 400 25px/1 'Liberation Sans', sans-serif;color:#000;letter-spacing:0.255px;">A function approximation class <span style="font:italic 27px 'Liberation Serif',serif">F</span> is Bellman</div>
<div class="t" style="left:83.6px;top:1425.0px;font:normal 400 25px/1 'Liberation Sans', sans-serif;color:#000;letter-spacing:0.330px;">complete under Bellman operator <span style="font:italic 27px 'Liberation Serif',serif">B</span> if</div>
<div class="t" style="left:125.1px;top:1464.4px;font:normal 400 29.5px/1 'Liberation Serif', serif;color:#111;letter-spacing:1.680px;">max<span style="font-size:20px;font-style:italic;position:relative;top:7px">QєF</span> min<span style="font-size:20px;font-style:italic;position:relative;top:7px">Q′єF</span> <span style="letter-spacing:-3.5px;position:relative;top:-1px">||</span> <i>Q</i>′ − <i>BQ</i><span style="letter-spacing:-3.5px;position:relative;top:-1px">||</span>  = 0</div>
<div class="t" style="left:141.7px;top:1565.6px;font:normal 400 22.5px/1 'Liberation Sans', sans-serif;color:#e8d3a2;-webkit-text-stroke:0.3px #e8d3a2;letter-spacing:-0.206px;transform:scaleX(0.9803);transform-origin:0 0;">For any Q function, we can find a Q’</div>
<div class="t" style="left:114.4px;top:1594.2px;font:normal 400 22.5px/1 'Liberation Sans', sans-serif;color:#e8d3a2;-webkit-text-stroke:0.3px #e8d3a2;letter-spacing:-0.114px;transform:scaleX(0.9889);transform-origin:0 0;">function that achieves zero Bellman error</div>
<div class="t" style="left:709.6px;top:416.0px;font:normal 700 39.5px/1 'Liberation Sans', sans-serif;color:#33006f;-webkit-text-stroke:2.0px #33006f;letter-spacing:0.843px;transform:scaleX(1.0402);transform-origin:0 0;">Return-Conditioned</div>
<div class="t" style="left:709.6px;top:462.8px;font:normal 700 39.5px/1 'Liberation Sans', sans-serif;color:#33006f;-webkit-text-stroke:2.0px #33006f;letter-spacing:0.351px;transform:scaleX(1.0163);transform-origin:0 0;">Supervised Learning?</div>
<div class="t" style="left:789.2px;top:552.3px;font:normal 400 25px/1 'Liberation Sans', sans-serif;color:#000;letter-spacing:-0.022px;">Does not require Bellman completeness,</div>
<div class="t" style="left:789.2px;top:581.7px;font:normal 400 25px/1 'Liberation Sans', sans-serif;color:#000;letter-spacing:0.187px;">only realizability.</div>
<div class="t" style="left:705.9px;top:872.2px;font:normal 400 25px/1 'Liberation Sans', sans-serif;color:#000;letter-spacing:-0.214px;">Example: construct a class of MDPs such that</div>
<div class="t" style="left:705.9px;top:901.0px;font:normal 400 25px/1 'Liberation Sans', sans-serif;color:#000;letter-spacing:-0.440px;">using 2-layer MLPs,</div>
<div class="t" style="left:707.3px;top:929.0px;font:normal 400 25px/1 'Liberation Sans', sans-serif;color:#000;">&gt;</div>
<div class="t" style="left:732.2px;top:929.0px;font:normal 400 25px/1 'Liberation Sans', sans-serif;color:#000;letter-spacing:-0.214px;">Q-Learning needs</div>
<div class="t" style="left:938.3px;top:926.0px;font:normal 400 29px/1 'Liberation Serif', serif;color:#111;letter-spacing:4.169px;">Ω(|<i>S</i><sup style="font-size:17px;font-style:italic;line-height:0">u</sup>|)</div>
<div class="t" style="left:1045.9px;top:929.0px;font:normal 400 25px/1 'Liberation Sans', sans-serif;color:#000;letter-spacing:0.327px;">hidden neurons</div>
<div class="t" style="left:732.2px;top:957.1px;font:normal 400 25px/1 'Liberation Sans', sans-serif;color:#000;letter-spacing:-0.001px;">to satisfy Bellman completeness.</div>
<div class="t" style="left:707.3px;top:986.2px;font:normal 400 25px/1 'Liberation Sans', sans-serif;color:#000;">&gt;</div>
<div class="t" style="left:732.2px;top:986.2px;font:normal 400 25px/1 'Liberation Sans', sans-serif;color:#000;letter-spacing:-1.278px;">RCSL needs</div>
<div class="t" style="left:868.6px;top:983.2px;font:normal 400 29px/1 'Liberation Serif', serif;color:#111;letter-spacing:3.240px;"><i>O</i>(1)</div>
<div class="t" style="left:941.4px;top:986.2px;font:normal 400 25px/1 'Liberation Sans', sans-serif;color:#000;letter-spacing:0.360px;">hidden neurons to</div>
<div class="t" style="left:732.2px;top:1015.0px;font:normal 400 25px/1 'Liberation Sans', sans-serif;color:#000;letter-spacing:0.243px;">represent the optimal policy.</div>
<div class="t" style="left:783.7px;top:1087.5px;font:normal 400 25px/1 'Liberation Sans', sans-serif;color:#000;letter-spacing:-0.010px;">Only recovers trajectories in the dataset.</div>
<div class="t" style="left:783.7px;top:1116.3px;font:normal 400 25px/1 'Liberation Sans', sans-serif;color:#000;letter-spacing:0.122px;">No stitching.</div>
<div class="t" style="left:708.0px;top:1166.6px;font:normal 400 25px/1 'Liberation Sans', sans-serif;color:#000;">&gt;</div>
<div class="t" style="left:734.0px;top:1166.6px;font:normal 400 25px/1 'Liberation Sans', sans-serif;color:#000;letter-spacing:0.002px;">Holds for Markovian policy and Decision</div>
<div class="t" style="left:734.0px;top:1195.4px;font:normal 400 25px/1 'Liberation Sans', sans-serif;color:#000;letter-spacing:0.359px;">Transformer,</div>
<div class="t" style="left:708.0px;top:1223.2px;font:normal 400 25px/1 'Liberation Sans', sans-serif;color:#000;">&gt;</div>
<div class="t" style="left:734.0px;top:1223.2px;font:normal 400 25px/1 'Liberation Sans', sans-serif;color:#000;letter-spacing:0.203px;">even if the environment has deterministic</div>
<div class="t" style="left:734.0px;top:1251.5px;font:normal 400 25px/1 'Liberation Sans', sans-serif;color:#000;letter-spacing:0.257px;">transition and the dataset has uniform</div>
<div class="t" style="left:734.0px;top:1280.0px;font:normal 400 25px/1 'Liberation Sans', sans-serif;color:#000;letter-spacing:-0.421px;">coverage.</div>
<div class="t" style="left:718.9px;top:1348.6px;font:normal 700 37.5px/1 'Liberation Sans', sans-serif;color:#33006f;-webkit-text-stroke:0.7px #33006f;letter-spacing:-0.100px;">Can we combine the best of</div>
<div class="t" style="left:718.9px;top:1392.8px;font:normal 700 37.5px/1 'Liberation Sans', sans-serif;color:#33006f;-webkit-text-stroke:0.7px #33006f;letter-spacing:-0.408px;">both worlds?</div>
<div class="t" style="left:730.4px;top:1502.5px;font:normal 700 26.5px/1 'Liberation Sans', sans-serif;color:#fff;letter-spacing:-0.608px;transform:scaleX(0.9598);transform-origin:0 0;">Free from Bellman</div>
<div class="t" style="left:757.2px;top:1535.2px;font:normal 700 26.5px/1 'Liberation Sans', sans-serif;color:#fff;letter-spacing:-0.779px;transform:scaleX(0.9537);transform-origin:0 0;">completeness</div>
<div class="t" style="left:1002.8px;top:1518.6px;font:normal 700 26.5px/1 'Liberation Sans', sans-serif;color:#fff;letter-spacing:-0.648px;transform:scaleX(0.9520);transform-origin:0 0;">Trajectory stitching</div>
<div class="t" style="left:1319.6px;top:414.8px;font:normal 700 40px/1 'Liberation Sans', sans-serif;color:#33006f;-webkit-text-stroke:2.0px #33006f;letter-spacing:0.243px;transform:scaleX(1.0100);transform-origin:0 0;">Model-Based RCSL</div>
<div class="t" style="left:1314.8px;top:763.4px;font:normal 400 25px/1 'Liberation Sans', sans-serif;color:#000;">&gt;</div>
<div class="t" style="left:1339.9px;top:763.4px;font:normal 400 25px/1 'Liberation Sans', sans-serif;color:#000;letter-spacing:0.037px;">Learn a dynamics model and a (multimodal)</div>
<div class="t" style="left:1339.9px;top:792.3px;font:normal 400 25px/1 'Liberation Sans', sans-serif;color:#000;letter-spacing:0.150px;">behavior policy from the dataset.</div>
<div class="t" style="left:1314.8px;top:820.8px;font:normal 400 25px/1 'Liberation Sans', sans-serif;color:#000;">&gt;</div>
<div class="t" style="left:1339.9px;top:820.8px;font:normal 400 25px/1 'Liberation Sans', sans-serif;color:#000;letter-spacing:0.166px;">Rollout the behavior policy under the model</div>
<div class="t" style="left:1339.9px;top:848.9px;font:normal 400 25px/1 'Liberation Sans', sans-serif;color:#000;letter-spacing:0.228px;">to generate potentially optimal trajectories.</div>
<div class="t" style="left:1314.8px;top:877.7px;font:normal 400 25px/1 'Liberation Sans', sans-serif;color:#000;">&gt;</div>
<div class="t" style="left:1339.9px;top:877.7px;font:normal 400 25px/1 'Liberation Sans', sans-serif;color:#000;letter-spacing:-0.249px;">Add trajectories to dataset and do RCSL.</div>
<div class="t" style="left:1348.6px;top:937.4px;font:normal 700 24.5px/1 'Liberation Sans', sans-serif;color:#33006f;-webkit-text-stroke:0.3px #33006f;letter-spacing:-0.104px;">Why does this do stitching?</div>
<div class="t" style="left:1568.5px;top:977.5px;font:normal 400 18px/1 'Liberation Sans', sans-serif;color:#000;letter-spacing:0.372px;">Dataset:</div>
<div class="t" style="left:1568.5px;top:1000.4px;font:normal 400 18px/1 'Liberation Sans', sans-serif;color:#000;letter-spacing:0.774px;">Optimal:</div>
<div class="t" style="left:1690.5px;top:1109.5px;font:normal 400 19px/1 'Liberation Serif', serif;color:#000;letter-spacing:0.647px;"><i>π<sub style="font-size:11px;line-height:0">D</sub></i>(· |<i>c</i>)</div>
<div class="t" style="left:1598.0px;top:1132.3px;font:normal 400 18px/1 'Liberation Sans', sans-serif;color:#000;letter-spacing:0.316px;">Behavior policy captures all</div>
<div class="t" style="left:1598.0px;top:1152.9px;font:normal 400 18px/1 'Liberation Sans', sans-serif;color:#000;letter-spacing:0.419px;">possible paths!</div>
<div class="t" style="left:1324.1px;top:1201.0px;font:normal 700 39.5px/1 'Liberation Sans', sans-serif;color:#33006f;-webkit-text-stroke:2.0px #33006f;letter-spacing:0.778px;transform:scaleX(1.0339);transform-origin:0 0;">Experiments</div>
<div class="t" style="left:1323.9px;top:1278.0px;font:normal 400 28px/1 'Liberation Sans', sans-serif;color:#33006f;letter-spacing:0.536px;">Point Maze</div>
<div class="t" style="left:1332.0px;top:1318.8px;font:normal 400 25px/1 'Liberation Sans', sans-serif;color:#000;">&gt;</div>
<div class="t" style="left:1366.5px;top:1318.8px;font:normal 400 25px/1 'Liberation Sans', sans-serif;color:#000;letter-spacing:0.214px;">Optimal policy stitches together two</div>
<div class="t" style="left:1366.5px;top:1347.7px;font:normal 400 25px/1 'Liberation Sans', sans-serif;color:#000;letter-spacing:0.197px;">suboptimal trajectories in the dataset.</div>
<div class="t" style="left:1949.7px;top:428.5px;font:normal 400 28px/1 'Liberation Sans', sans-serif;color:#33006f;letter-spacing:0.301px;">Simulated Robotic Tasks</div>
<div class="t" style="left:1952.7px;top:476.7px;font:normal 400 25px/1 'Liberation Sans', sans-serif;color:#000;">&gt;</div>
<div class="t" style="left:1988.0px;top:476.7px;font:normal 400 25px/1 'Liberation Sans', sans-serif;color:#000;letter-spacing:-0.221px;">Each task consists of two phases of actions.</div>
<div class="t" style="left:1952.7px;top:505.8px;font:normal 400 25px/1 'Liberation Sans', sans-serif;color:#000;">&gt;</div>
<div class="t" style="left:1988.0px;top:505.8px;font:normal 400 25px/1 'Liberation Sans', sans-serif;color:#000;letter-spacing:0.062px;">Dataset only contains trajectory from each</div>
<div class="t" style="left:1988.0px;top:533.8px;font:normal 400 25px/1 'Liberation Sans', sans-serif;color:#000;letter-spacing:0.211px;">phase, but not both.</div>
<div class="t" style="left:2047.4px;top:584.4px;font:normal 400 25px/1 'Liberation Sans', sans-serif;color:#000;letter-spacing:-0.954px;">Phase 1</div>
<div class="t" style="left:2314.0px;top:591.5px;font:normal 400 25px/1 'Liberation Sans', sans-serif;color:#000;letter-spacing:-0.521px;">Phase 2</div>
<div class="t" style="left:1981.5px;top:1197.0px;font:normal 700 28.5px/1 'Liberation Sans', sans-serif;color:#e8d3a2;-webkit-text-stroke:1.0px #e8d3a2;letter-spacing:0.140px;transform:scaleX(1.0075);transform-origin:0 0;">TL; DR</div>
<div class="t" style="left:1982.9px;top:1245.3px;font:normal 700 22.5px/1 'Liberation Sans', sans-serif;color:#fff;">&gt;</div>
<div class="t" style="left:2017.4px;top:1245.3px;font:normal 700 22.5px/1 'Liberation Sans', sans-serif;color:#fff;letter-spacing:-0.092px;transform:scaleX(0.9923);transform-origin:0 0;">Off-policy RL via dynamic programming</div>
<div class="t" style="left:2017.4px;top:1276.3px;font:normal 700 22.5px/1 'Liberation Sans', sans-serif;color:#fff;letter-spacing:-0.033px;transform:scaleX(0.9972);transform-origin:0 0;">can diverge due to Bellman</div>
<div class="t" style="left:2017.4px;top:1307.7px;font:normal 700 22.5px/1 'Liberation Sans', sans-serif;color:#fff;letter-spacing:-0.057px;transform:scaleX(0.9955);transform-origin:0 0;">incompleteness.</div>
<div class="t" style="left:1982.9px;top:1349.9px;font:normal 700 22.5px/1 'Liberation Sans', sans-serif;color:#fff;">&gt;</div>
<div class="t" style="left:2017.4px;top:1349.9px;font:normal 700 22.5px/1 'Liberation Sans', sans-serif;color:#fff;letter-spacing:-0.029px;transform:scaleX(0.9975);transform-origin:0 0;">Return-condition supervised learning</div>
<div class="t" style="left:2017.4px;top:1381.0px;font:normal 700 22.5px/1 'Liberation Sans', sans-serif;color:#fff;letter-spacing:0.026px;transform:scaleX(1.0022);transform-origin:0 0;">cannot recover optimal behavior by</div>
<div class="t" style="left:2017.4px;top:1412.0px;font:normal 700 22.5px/1 'Liberation Sans', sans-serif;color:#fff;letter-spacing:-0.015px;transform:scaleX(0.9986);transform-origin:0 0;">stitching suboptimal trajectories.</div>
<div class="t" style="left:1982.9px;top:1454.4px;font:normal 700 22.5px/1 'Liberation Sans', sans-serif;color:#fff;">&gt;</div>
<div class="t" style="left:2017.4px;top:1454.4px;font:normal 700 22.5px/1 'Liberation Sans', sans-serif;color:#fff;letter-spacing:-0.083px;transform:scaleX(0.9936);transform-origin:0 0;">We propose MBRCSL, augmenting the</div>
<div class="t" style="left:2017.4px;top:1485.3px;font:normal 700 22.5px/1 'Liberation Sans', sans-serif;color:#fff;letter-spacing:0.078px;transform:scaleX(1.0070);transform-origin:0 0;">dataset with model-based rollouts of</div>
<div class="t" style="left:2017.4px;top:1516.3px;font:normal 700 22.5px/1 'Liberation Sans', sans-serif;color:#fff;letter-spacing:0.053px;transform:scaleX(1.0049);transform-origin:0 0;">the behavior policy to enable trajectory</div>
<div class="t" style="left:2017.4px;top:1547.2px;font:normal 700 22.5px/1 'Liberation Sans', sans-serif;color:#fff;letter-spacing:-0.333px;transform:scaleX(0.9714);transform-origin:0 0;">stitching for RCSL.</div>
<div class="t" style="left:1325.4px;top:643.8px;font:normal 700 12.6px/1 'Liberation Sans', sans-serif;color:#44546a;letter-spacing:-0.240px;transform:scaleX(0.9640);transform-origin:0 0;">Offline Data</div>
<div class="t" style="left:1405.3px;top:564.7px;font:normal 700 12.6px/1 'Liberation Sans', sans-serif;color:#44546a;letter-spacing:-0.389px;transform:scaleX(0.9455);transform-origin:0 0;">Behavior Policy</div>
<div class="t" style="left:1400.4px;top:731.3px;font:normal 700 12.6px/1 'Liberation Sans', sans-serif;color:#44546a;letter-spacing:-0.312px;transform:scaleX(0.9608);transform-origin:0 0;">Dynamics Model</div>
<div class="t" style="left:1489.7px;top:643.8px;font:normal 700 12.6px/1 'Liberation Sans', sans-serif;color:#44546a;letter-spacing:-0.274px;transform:scaleX(0.9620);transform-origin:0 0;">Model Rollouts</div>
<div class="t" style="left:1633.1px;top:643.8px;font:normal 700 12.6px/1 'Liberation Sans', sans-serif;color:#44546a;letter-spacing:-0.273px;transform:scaleX(0.9611);transform-origin:0 0;">Rollout Data</div>
<div class="t" style="left:1769.2px;top:643.8px;font:normal 700 12.6px/1 'Liberation Sans', sans-serif;color:#44546a;letter-spacing:-0.286px;transform:scaleX(0.9605);transform-origin:0 0;">Return-Conditioned</div>
<div class="t" style="left:1807.5px;top:659.8px;font:normal 700 12.6px/1 'Liberation Sans', sans-serif;color:#44546a;letter-spacing:-0.503px;transform:scaleX(0.9365);transform-origin:0 0;">Policy</div>
<div class="t" style="left:1727.0px;top:617.8px;font:normal 400 11.5px/1 'Liberation Sans', sans-serif;color:#fff;letter-spacing:-0.729px;">RCSL</div>
<div class="t" style="left:1390.1px;top:991.4px;font:normal 700 23px/1 'Liberation Sans', sans-serif;color:#fff;">a</div>
<div class="t" style="left:1513.6px;top:991.4px;font:normal 700 23px/1 'Liberation Sans', sans-serif;color:#fff;">d</div>
<div class="t" style="left:1452.3px;top:1050.5px;font:normal 700 23px/1 'Liberation Sans', sans-serif;color:#fff;">c</div>
<div class="t" style="left:1389.4px;top:1112.5px;font:normal 700 23px/1 'Liberation Sans', sans-serif;color:#fff;">b</div>
<div class="t" style="left:1514.2px;top:1112.5px;font:normal 700 23px/1 'Liberation Sans', sans-serif;color:#fff;">e</div>

</body></html>
